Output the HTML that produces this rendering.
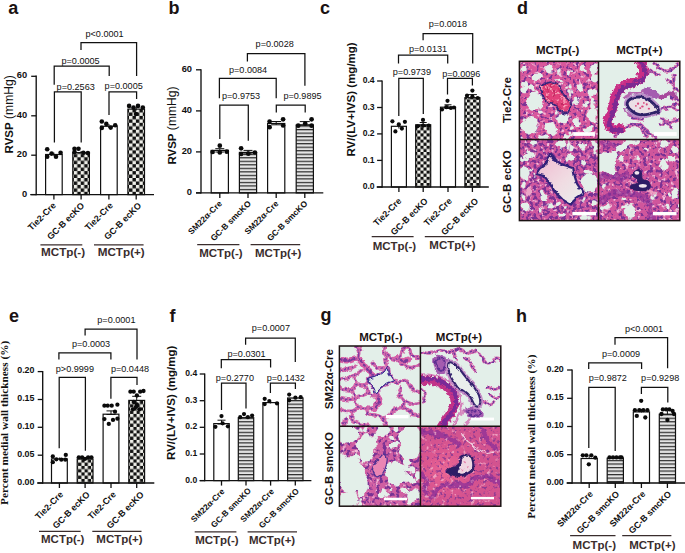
<!DOCTYPE html><html><head><meta charset="utf-8"><title>figure</title>
<style>html,body{margin:0;padding:0;background:#fff;}svg{display:block}</style></head><body>
<svg width="685" height="553" viewBox="0 0 685 553">
<rect width="685" height="553" fill="#fff"/>
<defs>
<pattern id="chk" width="6.9" height="6.9" patternUnits="userSpaceOnUse" patternTransform="translate(129.0,115.9)"><rect width="6.9" height="6.9" fill="#efefe9"/><rect x="3.45" y="0" width="3.45" height="3.45" fill="#111"/><rect x="0" y="3.45" width="3.45" height="3.45" fill="#111"/></pattern>
<pattern id="chkc" width="6.2" height="6.2" patternUnits="userSpaceOnUse" patternTransform="translate(466.9,102.4)"><rect width="6.2" height="6.2" fill="#efefe9"/><rect x="3.1" y="0" width="3.1" height="3.1" fill="#111"/><rect x="0" y="3.1" width="3.1" height="3.1" fill="#111"/></pattern>
<pattern id="chk2" width="6.5" height="6.5" patternUnits="userSpaceOnUse" patternTransform="translate(130.1,413.9)"><rect width="6.5" height="6.5" fill="#efefe9"/><rect x="3.25" y="0" width="3.25" height="3.25" fill="#111"/><rect x="0" y="3.25" width="3.25" height="3.25" fill="#111"/></pattern>
<pattern id="hst" width="8" height="3.52" patternUnits="userSpaceOnUse" patternTransform="translate(0,122.0)"><rect width="8" height="3.52" fill="#e4e4e4"/><rect x="0" y="0" width="8" height="1.2" fill="#2a2a2a"/></pattern>
</defs>
<rect x="45.60" y="154.50" width="16.60" height="40.10" fill="#fff" stroke="#111" stroke-width="1.2"/>
<line x1="53.90" y1="152.60" x2="53.90" y2="156.00" stroke="#111" stroke-width="1.0" stroke-linecap="butt"/>
<line x1="53.90" y1="152.60" x2="53.90" y2="152.60" stroke="#111" stroke-width="1.0" stroke-linecap="butt"/>
<line x1="53.90" y1="156.00" x2="53.90" y2="156.00" stroke="#111" stroke-width="1.0" stroke-linecap="butt"/>
<circle cx="47.20" cy="149.30" r="2.3" fill="#0a0a0a"/>
<circle cx="47.20" cy="156.80" r="2.3" fill="#0a0a0a"/>
<circle cx="51.60" cy="153.60" r="2.3" fill="#0a0a0a"/>
<circle cx="56.00" cy="156.80" r="2.3" fill="#0a0a0a"/>
<circle cx="60.60" cy="152.80" r="2.3" fill="#0a0a0a"/>
<line x1="53.90" y1="194.60" x2="53.90" y2="199.60" stroke="#111" stroke-width="1.3" stroke-linecap="butt"/>
<rect x="72.80" y="152.60" width="16.60" height="42.00" fill="url(#chk)" stroke="#111" stroke-width="1.2"/>
<line x1="81.10" y1="151.00" x2="81.10" y2="153.50" stroke="#111" stroke-width="1.0" stroke-linecap="butt"/>
<line x1="81.10" y1="151.00" x2="81.10" y2="151.00" stroke="#111" stroke-width="1.0" stroke-linecap="butt"/>
<line x1="81.10" y1="153.50" x2="81.10" y2="153.50" stroke="#111" stroke-width="1.0" stroke-linecap="butt"/>
<circle cx="74.50" cy="148.80" r="2.3" fill="#0a0a0a"/>
<circle cx="78.50" cy="148.80" r="2.3" fill="#0a0a0a"/>
<circle cx="74.50" cy="152.00" r="2.3" fill="#0a0a0a"/>
<circle cx="83.40" cy="152.80" r="2.3" fill="#0a0a0a"/>
<circle cx="87.90" cy="153.10" r="2.3" fill="#0a0a0a"/>
<line x1="81.10" y1="194.60" x2="81.10" y2="199.60" stroke="#111" stroke-width="1.3" stroke-linecap="butt"/>
<rect x="100.60" y="126.30" width="16.60" height="68.30" fill="#fff" stroke="#111" stroke-width="1.2"/>
<line x1="108.90" y1="124.00" x2="108.90" y2="128.00" stroke="#111" stroke-width="1.0" stroke-linecap="butt"/>
<line x1="108.90" y1="124.00" x2="108.90" y2="124.00" stroke="#111" stroke-width="1.0" stroke-linecap="butt"/>
<line x1="108.90" y1="128.00" x2="108.90" y2="128.00" stroke="#111" stroke-width="1.0" stroke-linecap="butt"/>
<circle cx="101.80" cy="121.50" r="2.3" fill="#0a0a0a"/>
<circle cx="101.80" cy="127.90" r="2.3" fill="#0a0a0a"/>
<circle cx="106.30" cy="123.90" r="2.3" fill="#0a0a0a"/>
<circle cx="110.70" cy="127.60" r="2.3" fill="#0a0a0a"/>
<circle cx="115.20" cy="125.20" r="2.3" fill="#0a0a0a"/>
<line x1="108.90" y1="194.60" x2="108.90" y2="199.60" stroke="#111" stroke-width="1.3" stroke-linecap="butt"/>
<rect x="127.90" y="109.10" width="16.60" height="85.50" fill="url(#chk)" stroke="#111" stroke-width="1.2"/>
<line x1="136.20" y1="107.00" x2="136.20" y2="110.50" stroke="#111" stroke-width="1.0" stroke-linecap="butt"/>
<line x1="136.20" y1="107.00" x2="136.20" y2="107.00" stroke="#111" stroke-width="1.0" stroke-linecap="butt"/>
<line x1="136.20" y1="110.50" x2="136.20" y2="110.50" stroke="#111" stroke-width="1.0" stroke-linecap="butt"/>
<circle cx="129.10" cy="105.90" r="2.3" fill="#0a0a0a"/>
<circle cx="133.50" cy="107.50" r="2.3" fill="#0a0a0a"/>
<circle cx="138.00" cy="105.90" r="2.3" fill="#0a0a0a"/>
<circle cx="142.80" cy="107.50" r="2.3" fill="#0a0a0a"/>
<circle cx="136.00" cy="114.00" r="2.3" fill="#0a0a0a"/>
<line x1="136.20" y1="194.60" x2="136.20" y2="199.60" stroke="#111" stroke-width="1.3" stroke-linecap="butt"/>
<line x1="36.20" y1="75.60" x2="36.20" y2="195.30" stroke="#111" stroke-width="1.35" stroke-linecap="butt"/>
<line x1="30.20" y1="194.60" x2="154.00" y2="194.60" stroke="#111" stroke-width="1.4" stroke-linecap="butt"/>
<line x1="31.20" y1="76.30" x2="36.20" y2="76.30" stroke="#111" stroke-width="1.3" stroke-linecap="butt"/>
<text x="27.20" y="78.25" font-family='"Liberation Sans", sans-serif' font-size="9.3" font-weight="bold" text-anchor="end" fill="#111">60</text>
<line x1="31.20" y1="115.80" x2="36.20" y2="115.80" stroke="#111" stroke-width="1.3" stroke-linecap="butt"/>
<text x="27.20" y="117.75" font-family='"Liberation Sans", sans-serif' font-size="9.3" font-weight="bold" text-anchor="end" fill="#111">40</text>
<line x1="31.20" y1="155.20" x2="36.20" y2="155.20" stroke="#111" stroke-width="1.3" stroke-linecap="butt"/>
<text x="27.20" y="157.15" font-family='"Liberation Sans", sans-serif' font-size="9.3" font-weight="bold" text-anchor="end" fill="#111">20</text>
<line x1="31.20" y1="194.60" x2="36.20" y2="194.60" stroke="#111" stroke-width="1.3" stroke-linecap="butt"/>
<text x="27.20" y="196.55" font-family='"Liberation Sans", sans-serif' font-size="9.3" font-weight="bold" text-anchor="end" fill="#111">0</text>
<path d="M81.00,50.00 V42.60 H136.60 V76.00" fill="none" stroke="#111" stroke-width="1.25" stroke-linejoin="miter"/>
<path d="M54.20,84.80 V66.20 H109.20 V76.00" fill="none" stroke="#111" stroke-width="1.25" stroke-linejoin="miter"/>
<path d="M54.40,142.40 V91.90 H81.20 V142.40" fill="none" stroke="#111" stroke-width="1.25" stroke-linejoin="miter"/>
<path d="M109.00,115.00 V91.90 H136.60 V99.00" fill="none" stroke="#111" stroke-width="1.25" stroke-linejoin="miter"/>
<text x="85.50" y="37.10" font-family='"Liberation Sans", sans-serif' font-size="9.1" font-weight="normal" text-anchor="start" fill="#111">p&lt;0.0001</text>
<text x="61.50" y="63.90" font-family='"Liberation Sans", sans-serif' font-size="9.1" font-weight="normal" text-anchor="start" fill="#111">p=0.0005</text>
<text x="56.60" y="89.50" font-family='"Liberation Sans", sans-serif' font-size="9.1" font-weight="normal" text-anchor="start" fill="#111">p=0.2563</text>
<text x="104.60" y="88.50" font-family='"Liberation Sans", sans-serif' font-size="9.1" font-weight="normal" text-anchor="start" fill="#111">p=0.0005</text>
<text x="0.00" y="0.00" font-family='"Liberation Sans", sans-serif' font-size="8.9" font-weight="bold" text-anchor="end" fill="#111" transform="translate(56.50,206.10) rotate(-45)">Tie2-Cre</text>
<text x="0.00" y="0.00" font-family='"Liberation Sans", sans-serif' font-size="8.9" font-weight="bold" text-anchor="end" fill="#111" transform="translate(84.80,206.10) rotate(-45)">GC-B ecKO</text>
<text x="0.00" y="0.00" font-family='"Liberation Sans", sans-serif' font-size="8.9" font-weight="bold" text-anchor="end" fill="#111" transform="translate(113.50,206.10) rotate(-45)">Tie2-Cre</text>
<text x="0.00" y="0.00" font-family='"Liberation Sans", sans-serif' font-size="8.9" font-weight="bold" text-anchor="end" fill="#111" transform="translate(142.00,206.10) rotate(-45)">GC-B ecKO</text>
<line x1="40.40" y1="244.80" x2="82.30" y2="244.80" stroke="#3a2d2d" stroke-width="1.2" stroke-linecap="butt"/>
<text x="41.00" y="255.80" font-family='"Liberation Sans", sans-serif' font-size="11.7" font-weight="bold" text-anchor="start" fill="#3a2d2d">MCTp(-)</text>
<line x1="94.00" y1="244.80" x2="143.60" y2="244.80" stroke="#3a2d2d" stroke-width="1.2" stroke-linecap="butt"/>
<text x="97.70" y="255.80" font-family='"Liberation Sans", sans-serif' font-size="11.7" font-weight="bold" text-anchor="start" fill="#3a2d2d">MCTp(+)</text>
<text transform="translate(12.6,153.4) rotate(-90)" font-family='"Liberation Sans", sans-serif' font-size="11.5" fill="#111"><tspan font-weight="bold">RVSP</tspan><tspan font-size="12.1"> (mmHg)</tspan></text>
<text x="8.20" y="14.20" font-family='"Liberation Sans", sans-serif' font-size="18" font-weight="bold" text-anchor="start" fill="#1a1212">a</text>
<rect x="211.20" y="150.40" width="17.20" height="42.50" fill="#fff" stroke="#111" stroke-width="1.2"/>
<line x1="219.80" y1="148.70" x2="219.80" y2="152.00" stroke="#111" stroke-width="1.0" stroke-linecap="butt"/>
<line x1="215.30" y1="148.70" x2="224.30" y2="148.70" stroke="#111" stroke-width="1.0" stroke-linecap="butt"/>
<line x1="215.30" y1="152.00" x2="224.30" y2="152.00" stroke="#111" stroke-width="1.0" stroke-linecap="butt"/>
<circle cx="219.80" cy="145.70" r="2.35" fill="#0a0a0a"/>
<circle cx="212.60" cy="152.00" r="2.35" fill="#0a0a0a"/>
<circle cx="219.80" cy="152.50" r="2.35" fill="#0a0a0a"/>
<circle cx="226.80" cy="151.70" r="2.35" fill="#0a0a0a"/>
<line x1="219.80" y1="192.90" x2="219.80" y2="197.90" stroke="#111" stroke-width="1.3" stroke-linecap="butt"/>
<rect x="239.40" y="152.40" width="17.20" height="40.50" fill="url(#hst)" stroke="#111" stroke-width="1.2"/>
<line x1="248.00" y1="150.40" x2="248.00" y2="154.00" stroke="#111" stroke-width="1.0" stroke-linecap="butt"/>
<line x1="243.50" y1="150.40" x2="252.50" y2="150.40" stroke="#111" stroke-width="1.0" stroke-linecap="butt"/>
<line x1="243.50" y1="154.00" x2="252.50" y2="154.00" stroke="#111" stroke-width="1.0" stroke-linecap="butt"/>
<circle cx="241.10" cy="148.30" r="2.35" fill="#0a0a0a"/>
<circle cx="241.10" cy="154.00" r="2.35" fill="#0a0a0a"/>
<circle cx="248.30" cy="153.70" r="2.35" fill="#0a0a0a"/>
<circle cx="254.90" cy="152.50" r="2.35" fill="#0a0a0a"/>
<line x1="248.00" y1="192.90" x2="248.00" y2="197.90" stroke="#111" stroke-width="1.3" stroke-linecap="butt"/>
<rect x="267.60" y="123.50" width="17.20" height="69.40" fill="#fff" stroke="#111" stroke-width="1.2"/>
<line x1="276.20" y1="121.50" x2="276.20" y2="124.80" stroke="#111" stroke-width="1.0" stroke-linecap="butt"/>
<line x1="271.20" y1="121.50" x2="281.20" y2="121.50" stroke="#111" stroke-width="1.0" stroke-linecap="butt"/>
<line x1="271.20" y1="124.80" x2="281.20" y2="124.80" stroke="#111" stroke-width="1.0" stroke-linecap="butt"/>
<circle cx="269.60" cy="121.50" r="2.35" fill="#0a0a0a"/>
<circle cx="269.60" cy="127.20" r="2.35" fill="#0a0a0a"/>
<circle cx="283.10" cy="119.30" r="2.35" fill="#0a0a0a"/>
<circle cx="283.10" cy="125.50" r="2.35" fill="#0a0a0a"/>
<line x1="276.20" y1="192.90" x2="276.20" y2="197.90" stroke="#111" stroke-width="1.3" stroke-linecap="butt"/>
<rect x="296.20" y="125.00" width="17.20" height="67.90" fill="url(#hst)" stroke="#111" stroke-width="1.2"/>
<line x1="304.80" y1="121.60" x2="304.80" y2="125.00" stroke="#111" stroke-width="1.0" stroke-linecap="butt"/>
<line x1="299.80" y1="121.60" x2="309.80" y2="121.60" stroke="#111" stroke-width="1.0" stroke-linecap="butt"/>
<line x1="299.80" y1="125.00" x2="309.80" y2="125.00" stroke="#111" stroke-width="1.0" stroke-linecap="butt"/>
<circle cx="298.20" cy="125.70" r="2.35" fill="#0a0a0a"/>
<circle cx="305.20" cy="123.50" r="2.35" fill="#0a0a0a"/>
<circle cx="311.60" cy="119.30" r="2.35" fill="#0a0a0a"/>
<circle cx="311.60" cy="125.70" r="2.35" fill="#0a0a0a"/>
<line x1="304.80" y1="192.90" x2="304.80" y2="197.90" stroke="#111" stroke-width="1.3" stroke-linecap="butt"/>
<line x1="201.00" y1="69.20" x2="201.00" y2="193.60" stroke="#111" stroke-width="1.35" stroke-linecap="butt"/>
<line x1="196.00" y1="192.90" x2="323.30" y2="192.90" stroke="#111" stroke-width="1.4" stroke-linecap="butt"/>
<line x1="196.00" y1="69.80" x2="201.00" y2="69.80" stroke="#111" stroke-width="1.3" stroke-linecap="butt"/>
<text x="192.00" y="71.75" font-family='"Liberation Sans", sans-serif' font-size="9.3" font-weight="bold" text-anchor="end" fill="#111">60</text>
<line x1="196.00" y1="110.90" x2="201.00" y2="110.90" stroke="#111" stroke-width="1.3" stroke-linecap="butt"/>
<text x="192.00" y="112.85" font-family='"Liberation Sans", sans-serif' font-size="9.3" font-weight="bold" text-anchor="end" fill="#111">40</text>
<line x1="196.00" y1="151.90" x2="201.00" y2="151.90" stroke="#111" stroke-width="1.3" stroke-linecap="butt"/>
<text x="192.00" y="153.85" font-family='"Liberation Sans", sans-serif' font-size="9.3" font-weight="bold" text-anchor="end" fill="#111">20</text>
<line x1="196.00" y1="192.90" x2="201.00" y2="192.90" stroke="#111" stroke-width="1.3" stroke-linecap="butt"/>
<text x="192.00" y="194.85" font-family='"Liberation Sans", sans-serif' font-size="9.3" font-weight="bold" text-anchor="end" fill="#111">0</text>
<path d="M247.40,61.50 V53.60 H304.90 V85.80" fill="none" stroke="#111" stroke-width="1.25" stroke-linejoin="miter"/>
<path d="M219.40,98.30 V78.40 H276.20 V98.30" fill="none" stroke="#111" stroke-width="1.25" stroke-linejoin="miter"/>
<path d="M219.80,139.00 V105.00 H248.30 V140.80" fill="none" stroke="#111" stroke-width="1.25" stroke-linejoin="miter"/>
<path d="M276.30,112.60 V105.00 H305.20 V112.60" fill="none" stroke="#111" stroke-width="1.25" stroke-linejoin="miter"/>
<text x="255.60" y="47.40" font-family='"Liberation Sans", sans-serif' font-size="9.1" font-weight="normal" text-anchor="start" fill="#111">p=0.0028</text>
<text x="229.00" y="72.70" font-family='"Liberation Sans", sans-serif' font-size="9.1" font-weight="normal" text-anchor="start" fill="#111">p=0.0084</text>
<text x="222.00" y="99.00" font-family='"Liberation Sans", sans-serif' font-size="9.1" font-weight="normal" text-anchor="start" fill="#111">p=0.9753</text>
<text x="283.40" y="99.00" font-family='"Liberation Sans", sans-serif' font-size="9.1" font-weight="normal" text-anchor="start" fill="#111">p=0.9895</text>
<text x="0.00" y="0.00" font-family='"Liberation Sans", sans-serif' font-size="8.4" font-weight="bold" text-anchor="end" fill="#111" transform="translate(222.50,204.10) rotate(-45)">SM22α-Cre</text>
<text x="0.00" y="0.00" font-family='"Liberation Sans", sans-serif' font-size="8.4" font-weight="bold" text-anchor="end" fill="#111" transform="translate(251.50,204.10) rotate(-45)">GC-B smcKO</text>
<text x="0.00" y="0.00" font-family='"Liberation Sans", sans-serif' font-size="8.4" font-weight="bold" text-anchor="end" fill="#111" transform="translate(279.00,204.10) rotate(-45)">SM22α-Cre</text>
<text x="0.00" y="0.00" font-family='"Liberation Sans", sans-serif' font-size="8.4" font-weight="bold" text-anchor="end" fill="#111" transform="translate(308.00,204.10) rotate(-45)">GC-B smcKO</text>
<line x1="197.20" y1="244.70" x2="239.40" y2="244.70" stroke="#3a2d2d" stroke-width="1.2" stroke-linecap="butt"/>
<text x="199.20" y="256.70" font-family='"Liberation Sans", sans-serif' font-size="11.5" font-weight="bold" text-anchor="start" fill="#3a2d2d">MCTp(-)</text>
<line x1="250.60" y1="244.70" x2="300.20" y2="244.70" stroke="#3a2d2d" stroke-width="1.2" stroke-linecap="butt"/>
<text x="255.00" y="256.70" font-family='"Liberation Sans", sans-serif' font-size="11.5" font-weight="bold" text-anchor="start" fill="#3a2d2d">MCTp(+)</text>
<text transform="translate(176,164.6) rotate(-90)" font-family='"Liberation Sans", sans-serif' font-size="11.5" fill="#111"><tspan font-weight="bold">RVSP</tspan><tspan font-size="12.1"> (mmHg)</tspan></text>
<text x="168.50" y="14.20" font-family='"Liberation Sans", sans-serif' font-size="18" font-weight="bold" text-anchor="start" fill="#1a1212">b</text>
<rect x="391.40" y="126.30" width="15.00" height="60.70" fill="#fff" stroke="#111" stroke-width="1.2"/>
<line x1="398.90" y1="123.50" x2="398.90" y2="128.50" stroke="#111" stroke-width="1.0" stroke-linecap="butt"/>
<line x1="398.90" y1="123.50" x2="398.90" y2="123.50" stroke="#111" stroke-width="1.0" stroke-linecap="butt"/>
<line x1="398.90" y1="128.50" x2="398.90" y2="128.50" stroke="#111" stroke-width="1.0" stroke-linecap="butt"/>
<circle cx="392.40" cy="121.30" r="2.1" fill="#0a0a0a"/>
<circle cx="398.80" cy="124.40" r="2.1" fill="#0a0a0a"/>
<circle cx="404.90" cy="121.80" r="2.1" fill="#0a0a0a"/>
<circle cx="395.40" cy="131.40" r="2.1" fill="#0a0a0a"/>
<circle cx="401.90" cy="128.60" r="2.1" fill="#0a0a0a"/>
<line x1="398.90" y1="187.00" x2="398.90" y2="192.00" stroke="#111" stroke-width="1.3" stroke-linecap="butt"/>
<rect x="415.70" y="124.80" width="15.00" height="62.20" fill="url(#chkc)" stroke="#111" stroke-width="1.2"/>
<line x1="423.20" y1="122.50" x2="423.20" y2="126.00" stroke="#111" stroke-width="1.0" stroke-linecap="butt"/>
<line x1="419.70" y1="122.50" x2="426.70" y2="122.50" stroke="#111" stroke-width="1.0" stroke-linecap="butt"/>
<line x1="419.70" y1="126.00" x2="426.70" y2="126.00" stroke="#111" stroke-width="1.0" stroke-linecap="butt"/>
<circle cx="423.00" cy="119.90" r="2.1" fill="#0a0a0a"/>
<circle cx="417.50" cy="126.30" r="2.1" fill="#0a0a0a"/>
<circle cx="423.00" cy="125.60" r="2.1" fill="#0a0a0a"/>
<circle cx="428.70" cy="125.60" r="2.1" fill="#0a0a0a"/>
<line x1="423.20" y1="187.00" x2="423.20" y2="192.00" stroke="#111" stroke-width="1.3" stroke-linecap="butt"/>
<rect x="440.50" y="107.20" width="15.00" height="79.80" fill="#fff" stroke="#111" stroke-width="1.2"/>
<line x1="448.00" y1="104.80" x2="448.00" y2="108.50" stroke="#111" stroke-width="1.0" stroke-linecap="butt"/>
<line x1="444.50" y1="104.80" x2="451.50" y2="104.80" stroke="#111" stroke-width="1.0" stroke-linecap="butt"/>
<line x1="444.50" y1="108.50" x2="451.50" y2="108.50" stroke="#111" stroke-width="1.0" stroke-linecap="butt"/>
<circle cx="447.50" cy="100.80" r="2.1" fill="#0a0a0a"/>
<circle cx="442.00" cy="109.50" r="2.1" fill="#0a0a0a"/>
<circle cx="446.30" cy="107.20" r="2.1" fill="#0a0a0a"/>
<circle cx="450.90" cy="108.00" r="2.1" fill="#0a0a0a"/>
<circle cx="454.00" cy="107.50" r="2.1" fill="#0a0a0a"/>
<line x1="448.00" y1="187.00" x2="448.00" y2="192.00" stroke="#111" stroke-width="1.3" stroke-linecap="butt"/>
<rect x="464.90" y="97.70" width="15.00" height="89.30" fill="url(#chkc)" stroke="#111" stroke-width="1.2"/>
<line x1="472.40" y1="94.60" x2="472.40" y2="98.00" stroke="#111" stroke-width="1.0" stroke-linecap="butt"/>
<line x1="467.90" y1="94.60" x2="476.90" y2="94.60" stroke="#111" stroke-width="1.0" stroke-linecap="butt"/>
<line x1="467.90" y1="98.00" x2="476.90" y2="98.00" stroke="#111" stroke-width="1.0" stroke-linecap="butt"/>
<circle cx="472.40" cy="90.60" r="2.1" fill="#0a0a0a"/>
<circle cx="467.00" cy="95.70" r="2.1" fill="#0a0a0a"/>
<circle cx="472.40" cy="96.50" r="2.1" fill="#0a0a0a"/>
<circle cx="477.70" cy="98.00" r="2.1" fill="#0a0a0a"/>
<line x1="472.40" y1="187.00" x2="472.40" y2="192.00" stroke="#111" stroke-width="1.3" stroke-linecap="butt"/>
<line x1="382.10" y1="80.40" x2="382.10" y2="187.70" stroke="#111" stroke-width="1.35" stroke-linecap="butt"/>
<line x1="376.70" y1="187.00" x2="488.80" y2="187.00" stroke="#111" stroke-width="1.4" stroke-linecap="butt"/>
<line x1="377.10" y1="81.00" x2="382.10" y2="81.00" stroke="#111" stroke-width="1.3" stroke-linecap="butt"/>
<text x="374.60" y="83.10" font-family='"Liberation Sans", sans-serif' font-size="8.6" font-weight="bold" text-anchor="end" fill="#111">0.4</text>
<line x1="377.10" y1="107.50" x2="382.10" y2="107.50" stroke="#111" stroke-width="1.3" stroke-linecap="butt"/>
<text x="374.60" y="109.60" font-family='"Liberation Sans", sans-serif' font-size="8.6" font-weight="bold" text-anchor="end" fill="#111">0.3</text>
<line x1="377.10" y1="133.90" x2="382.10" y2="133.90" stroke="#111" stroke-width="1.3" stroke-linecap="butt"/>
<text x="374.60" y="136.00" font-family='"Liberation Sans", sans-serif' font-size="8.6" font-weight="bold" text-anchor="end" fill="#111">0.2</text>
<line x1="377.10" y1="160.40" x2="382.10" y2="160.40" stroke="#111" stroke-width="1.3" stroke-linecap="butt"/>
<text x="374.60" y="162.50" font-family='"Liberation Sans", sans-serif' font-size="8.6" font-weight="bold" text-anchor="end" fill="#111">0.1</text>
<line x1="377.10" y1="187.00" x2="382.10" y2="187.00" stroke="#111" stroke-width="1.3" stroke-linecap="butt"/>
<text x="374.60" y="189.10" font-family='"Liberation Sans", sans-serif' font-size="8.6" font-weight="bold" text-anchor="end" fill="#111">0.0</text>
<path d="M423.10,40.30 V33.60 H472.70 V63.40" fill="none" stroke="#111" stroke-width="1.25" stroke-linejoin="miter"/>
<path d="M398.50,63.40 V55.20 H447.70 V63.40" fill="none" stroke="#111" stroke-width="1.25" stroke-linejoin="miter"/>
<path d="M398.80,116.10 V78.40 H423.30 V114.10" fill="none" stroke="#111" stroke-width="1.25" stroke-linejoin="miter"/>
<path d="M447.50,94.60 V78.40 H472.40 V85.40" fill="none" stroke="#111" stroke-width="1.25" stroke-linejoin="miter"/>
<text x="428.80" y="26.90" font-family='"Liberation Sans", sans-serif' font-size="9.1" font-weight="normal" text-anchor="start" fill="#111">p=0.0018</text>
<text x="408.90" y="51.50" font-family='"Liberation Sans", sans-serif' font-size="9.1" font-weight="normal" text-anchor="start" fill="#111">p=0.0131</text>
<text x="392.80" y="74.50" font-family='"Liberation Sans", sans-serif' font-size="9.1" font-weight="normal" text-anchor="start" fill="#111">p=0.9739</text>
<text x="442.20" y="76.50" font-family='"Liberation Sans", sans-serif' font-size="9.1" font-weight="normal" text-anchor="start" fill="#111">p=0.0096</text>
<text x="0.00" y="0.00" font-family='"Liberation Sans", sans-serif' font-size="8.9" font-weight="bold" text-anchor="end" fill="#111" transform="translate(402.00,201.60) rotate(-45)">Tie2-Cre</text>
<text x="0.00" y="0.00" font-family='"Liberation Sans", sans-serif' font-size="8.9" font-weight="bold" text-anchor="end" fill="#111" transform="translate(428.50,201.60) rotate(-45)">GC-B ecKO</text>
<text x="0.00" y="0.00" font-family='"Liberation Sans", sans-serif' font-size="8.9" font-weight="bold" text-anchor="end" fill="#111" transform="translate(452.50,201.60) rotate(-45)">Tie2-Cre</text>
<text x="0.00" y="0.00" font-family='"Liberation Sans", sans-serif' font-size="8.9" font-weight="bold" text-anchor="end" fill="#111" transform="translate(479.00,201.60) rotate(-45)">GC-B ecKO</text>
<line x1="371.70" y1="236.70" x2="413.60" y2="236.70" stroke="#3a2d2d" stroke-width="1.2" stroke-linecap="butt"/>
<text x="372.70" y="249.60" font-family='"Liberation Sans", sans-serif' font-size="11.5" font-weight="bold" text-anchor="start" fill="#3a2d2d">MCTp(-)</text>
<line x1="424.80" y1="236.70" x2="474.00" y2="236.70" stroke="#3a2d2d" stroke-width="1.2" stroke-linecap="butt"/>
<text x="429.30" y="248.60" font-family='"Liberation Sans", sans-serif' font-size="11.5" font-weight="bold" text-anchor="start" fill="#3a2d2d">MCTp(+)</text>
<text transform="translate(355.3,156.6) rotate(-90)" font-family='"Liberation Sans", sans-serif' font-size="11.5" font-weight="bold" fill="#111">RV/(LV+IVS) (mg/mg)</text>
<text x="320.00" y="14.20" font-family='"Liberation Sans", sans-serif' font-size="18" font-weight="bold" text-anchor="start" fill="#1a1212">c</text>
<rect x="51.50" y="458.90" width="15.80" height="24.10" fill="#fff" stroke="#111" stroke-width="1.2"/>
<line x1="59.40" y1="457.50" x2="59.40" y2="460.00" stroke="#111" stroke-width="1.0" stroke-linecap="butt"/>
<line x1="59.40" y1="457.50" x2="59.40" y2="457.50" stroke="#111" stroke-width="1.0" stroke-linecap="butt"/>
<line x1="59.40" y1="460.00" x2="59.40" y2="460.00" stroke="#111" stroke-width="1.0" stroke-linecap="butt"/>
<circle cx="52.80" cy="456.50" r="2.15" fill="#0a0a0a"/>
<circle cx="65.80" cy="454.90" r="2.15" fill="#0a0a0a"/>
<circle cx="52.80" cy="462.20" r="2.15" fill="#0a0a0a"/>
<circle cx="56.40" cy="459.30" r="2.15" fill="#0a0a0a"/>
<circle cx="61.30" cy="459.70" r="2.15" fill="#0a0a0a"/>
<circle cx="65.30" cy="459.70" r="2.15" fill="#0a0a0a"/>
<line x1="59.40" y1="483.00" x2="59.40" y2="488.00" stroke="#111" stroke-width="1.3" stroke-linecap="butt"/>
<rect x="77.20" y="458.90" width="15.80" height="24.10" fill="url(#chk2)" stroke="#111" stroke-width="1.2"/>
<line x1="85.10" y1="458.00" x2="85.10" y2="459.50" stroke="#111" stroke-width="1.0" stroke-linecap="butt"/>
<line x1="85.10" y1="458.00" x2="85.10" y2="458.00" stroke="#111" stroke-width="1.0" stroke-linecap="butt"/>
<line x1="85.10" y1="459.50" x2="85.10" y2="459.50" stroke="#111" stroke-width="1.0" stroke-linecap="butt"/>
<circle cx="78.80" cy="457.30" r="2.15" fill="#0a0a0a"/>
<circle cx="82.10" cy="457.30" r="2.15" fill="#0a0a0a"/>
<circle cx="88.10" cy="457.30" r="2.15" fill="#0a0a0a"/>
<circle cx="91.40" cy="457.30" r="2.15" fill="#0a0a0a"/>
<circle cx="84.90" cy="458.90" r="2.15" fill="#0a0a0a"/>
<line x1="85.10" y1="483.00" x2="85.10" y2="488.00" stroke="#111" stroke-width="1.3" stroke-linecap="butt"/>
<rect x="103.10" y="414.20" width="15.80" height="68.80" fill="#fff" stroke="#111" stroke-width="1.2"/>
<line x1="111.00" y1="410.90" x2="111.00" y2="414.50" stroke="#111" stroke-width="1.0" stroke-linecap="butt"/>
<line x1="106.50" y1="410.90" x2="115.50" y2="410.90" stroke="#111" stroke-width="1.0" stroke-linecap="butt"/>
<line x1="106.50" y1="414.50" x2="115.50" y2="414.50" stroke="#111" stroke-width="1.0" stroke-linecap="butt"/>
<circle cx="104.40" cy="405.70" r="2.15" fill="#0a0a0a"/>
<circle cx="107.70" cy="405.70" r="2.15" fill="#0a0a0a"/>
<circle cx="111.70" cy="405.70" r="2.15" fill="#0a0a0a"/>
<circle cx="117.40" cy="404.70" r="2.15" fill="#0a0a0a"/>
<circle cx="104.40" cy="419.10" r="2.15" fill="#0a0a0a"/>
<circle cx="108.80" cy="423.90" r="2.15" fill="#0a0a0a"/>
<circle cx="113.00" cy="419.90" r="2.15" fill="#0a0a0a"/>
<circle cx="117.40" cy="418.70" r="2.15" fill="#0a0a0a"/>
<circle cx="115.00" cy="411.70" r="2.15" fill="#0a0a0a"/>
<line x1="111.00" y1="483.00" x2="111.00" y2="488.00" stroke="#111" stroke-width="1.3" stroke-linecap="butt"/>
<rect x="128.80" y="400.40" width="15.80" height="82.60" fill="url(#chk2)" stroke="#111" stroke-width="1.2"/>
<line x1="136.70" y1="396.30" x2="136.70" y2="400.50" stroke="#111" stroke-width="1.0" stroke-linecap="butt"/>
<line x1="132.20" y1="396.30" x2="141.20" y2="396.30" stroke="#111" stroke-width="1.0" stroke-linecap="butt"/>
<line x1="132.20" y1="400.50" x2="141.20" y2="400.50" stroke="#111" stroke-width="1.0" stroke-linecap="butt"/>
<circle cx="130.40" cy="391.70" r="2.15" fill="#0a0a0a"/>
<circle cx="133.70" cy="391.70" r="2.15" fill="#0a0a0a"/>
<circle cx="140.20" cy="391.70" r="2.15" fill="#0a0a0a"/>
<circle cx="143.50" cy="391.00" r="2.15" fill="#0a0a0a"/>
<circle cx="136.90" cy="395.50" r="2.15" fill="#0a0a0a"/>
<circle cx="133.70" cy="402.00" r="2.15" fill="#0a0a0a"/>
<circle cx="136.90" cy="404.40" r="2.15" fill="#0a0a0a"/>
<circle cx="132.90" cy="409.30" r="2.15" fill="#0a0a0a"/>
<circle cx="139.40" cy="409.30" r="2.15" fill="#0a0a0a"/>
<circle cx="136.00" cy="406.90" r="2.15" fill="#0a0a0a"/>
<line x1="136.70" y1="483.00" x2="136.70" y2="488.00" stroke="#111" stroke-width="1.3" stroke-linecap="butt"/>
<line x1="42.70" y1="371.00" x2="42.70" y2="483.70" stroke="#111" stroke-width="1.35" stroke-linecap="butt"/>
<line x1="37.20" y1="483.00" x2="154.30" y2="483.00" stroke="#111" stroke-width="1.4" stroke-linecap="butt"/>
<line x1="37.70" y1="371.60" x2="42.70" y2="371.60" stroke="#111" stroke-width="1.3" stroke-linecap="butt"/>
<text x="34.50" y="373.40" font-family='"Liberation Sans", sans-serif' font-size="8.9" font-weight="bold" text-anchor="end" fill="#111">0.20</text>
<line x1="37.70" y1="399.50" x2="42.70" y2="399.50" stroke="#111" stroke-width="1.3" stroke-linecap="butt"/>
<text x="34.50" y="401.30" font-family='"Liberation Sans", sans-serif' font-size="8.9" font-weight="bold" text-anchor="end" fill="#111">0.15</text>
<line x1="37.70" y1="427.30" x2="42.70" y2="427.30" stroke="#111" stroke-width="1.3" stroke-linecap="butt"/>
<text x="34.50" y="429.10" font-family='"Liberation Sans", sans-serif' font-size="8.9" font-weight="bold" text-anchor="end" fill="#111">0.10</text>
<line x1="37.70" y1="455.20" x2="42.70" y2="455.20" stroke="#111" stroke-width="1.3" stroke-linecap="butt"/>
<text x="34.50" y="457.00" font-family='"Liberation Sans", sans-serif' font-size="8.9" font-weight="bold" text-anchor="end" fill="#111">0.05</text>
<line x1="37.70" y1="483.00" x2="42.70" y2="483.00" stroke="#111" stroke-width="1.3" stroke-linecap="butt"/>
<text x="34.50" y="484.80" font-family='"Liberation Sans", sans-serif' font-size="8.9" font-weight="bold" text-anchor="end" fill="#111">0.00</text>
<path d="M85.10,335.50 V329.00 H137.00 V359.60" fill="none" stroke="#111" stroke-width="1.25" stroke-linejoin="miter"/>
<path d="M58.90,359.60 V352.90 H110.90 V359.60" fill="none" stroke="#111" stroke-width="1.25" stroke-linejoin="miter"/>
<path d="M59.20,448.30 V377.40 H85.40 V450.80" fill="none" stroke="#111" stroke-width="1.25" stroke-linejoin="miter"/>
<path d="M110.90,398.70 V377.40 H137.00 V384.90" fill="none" stroke="#111" stroke-width="1.25" stroke-linejoin="miter"/>
<text x="97.30" y="322.80" font-family='"Liberation Sans", sans-serif' font-size="9.1" font-weight="normal" text-anchor="start" fill="#111">p=0.0001</text>
<text x="72.00" y="347.20" font-family='"Liberation Sans", sans-serif' font-size="9.1" font-weight="normal" text-anchor="start" fill="#111">p=0.0003</text>
<text x="55.80" y="371.50" font-family='"Liberation Sans", sans-serif' font-size="9.1" font-weight="normal" text-anchor="start" fill="#111">p&gt;0.9999</text>
<text x="110.90" y="371.50" font-family='"Liberation Sans", sans-serif' font-size="9.1" font-weight="normal" text-anchor="start" fill="#111">p=0.0448</text>
<text x="0.00" y="0.00" font-family='"Liberation Sans", sans-serif' font-size="8.9" font-weight="bold" text-anchor="end" fill="#111" transform="translate(63.80,495.10) rotate(-45)">Tie2-Cre</text>
<text x="0.00" y="0.00" font-family='"Liberation Sans", sans-serif' font-size="8.9" font-weight="bold" text-anchor="end" fill="#111" transform="translate(90.50,495.10) rotate(-45)">GC-B ecKO</text>
<text x="0.00" y="0.00" font-family='"Liberation Sans", sans-serif' font-size="8.9" font-weight="bold" text-anchor="end" fill="#111" transform="translate(116.50,495.10) rotate(-45)">Tie2-Cre</text>
<text x="0.00" y="0.00" font-family='"Liberation Sans", sans-serif' font-size="8.9" font-weight="bold" text-anchor="end" fill="#111" transform="translate(144.50,495.10) rotate(-45)">GC-B ecKO</text>
<line x1="39.00" y1="531.40" x2="80.70" y2="531.40" stroke="#3a2d2d" stroke-width="1.2" stroke-linecap="butt"/>
<text x="41.00" y="542.60" font-family='"Liberation Sans", sans-serif' font-size="11.5" font-weight="bold" text-anchor="start" fill="#3a2d2d">MCTp(-)</text>
<line x1="92.30" y1="531.40" x2="141.50" y2="531.40" stroke="#3a2d2d" stroke-width="1.2" stroke-linecap="butt"/>
<text x="96.30" y="542.60" font-family='"Liberation Sans", sans-serif' font-size="11.5" font-weight="bold" text-anchor="start" fill="#3a2d2d">MCTp(+)</text>
<text transform="translate(7.7,505) rotate(-90)" font-family='"Liberation Serif", serif' font-size="11.3" font-weight="bold" fill="#111">Percent medial wall thickness (%)</text>
<text x="9.00" y="321.60" font-family='"Liberation Sans", sans-serif' font-size="18" font-weight="bold" text-anchor="start" fill="#1a1212">e</text>
<rect x="213.80" y="423.60" width="15.40" height="57.00" fill="#fff" stroke="#111" stroke-width="1.2"/>
<line x1="221.50" y1="420.20" x2="221.50" y2="424.00" stroke="#111" stroke-width="1.0" stroke-linecap="butt"/>
<line x1="217.50" y1="420.20" x2="225.50" y2="420.20" stroke="#111" stroke-width="1.0" stroke-linecap="butt"/>
<line x1="217.50" y1="424.00" x2="225.50" y2="424.00" stroke="#111" stroke-width="1.0" stroke-linecap="butt"/>
<circle cx="221.50" cy="416.10" r="2.1" fill="#0a0a0a"/>
<circle cx="215.40" cy="426.80" r="2.1" fill="#0a0a0a"/>
<circle cx="227.90" cy="426.30" r="2.1" fill="#0a0a0a"/>
<circle cx="222.60" cy="423.30" r="2.1" fill="#0a0a0a"/>
<line x1="221.50" y1="480.60" x2="221.50" y2="485.60" stroke="#111" stroke-width="1.3" stroke-linecap="butt"/>
<rect x="238.30" y="417.70" width="15.40" height="62.90" fill="url(#hst)" stroke="#111" stroke-width="1.2"/>
<line x1="246.00" y1="416.50" x2="246.00" y2="418.20" stroke="#111" stroke-width="1.0" stroke-linecap="butt"/>
<line x1="246.00" y1="416.50" x2="246.00" y2="416.50" stroke="#111" stroke-width="1.0" stroke-linecap="butt"/>
<line x1="246.00" y1="418.20" x2="246.00" y2="418.20" stroke="#111" stroke-width="1.0" stroke-linecap="butt"/>
<circle cx="244.00" cy="414.10" r="2.1" fill="#0a0a0a"/>
<circle cx="240.20" cy="417.20" r="2.1" fill="#0a0a0a"/>
<circle cx="247.90" cy="417.20" r="2.1" fill="#0a0a0a"/>
<circle cx="252.10" cy="415.60" r="2.1" fill="#0a0a0a"/>
<line x1="246.00" y1="480.60" x2="246.00" y2="485.60" stroke="#111" stroke-width="1.3" stroke-linecap="butt"/>
<rect x="262.90" y="402.60" width="15.40" height="78.00" fill="#fff" stroke="#111" stroke-width="1.2"/>
<line x1="270.60" y1="401.00" x2="270.60" y2="403.50" stroke="#111" stroke-width="1.0" stroke-linecap="butt"/>
<line x1="270.60" y1="401.00" x2="270.60" y2="401.00" stroke="#111" stroke-width="1.0" stroke-linecap="butt"/>
<line x1="270.60" y1="403.50" x2="270.60" y2="403.50" stroke="#111" stroke-width="1.0" stroke-linecap="butt"/>
<circle cx="264.70" cy="398.80" r="2.1" fill="#0a0a0a"/>
<circle cx="264.70" cy="404.10" r="2.1" fill="#0a0a0a"/>
<circle cx="269.30" cy="401.10" r="2.1" fill="#0a0a0a"/>
<circle cx="277.00" cy="403.40" r="2.1" fill="#0a0a0a"/>
<line x1="270.60" y1="480.60" x2="270.60" y2="485.60" stroke="#111" stroke-width="1.3" stroke-linecap="butt"/>
<rect x="287.60" y="398.00" width="15.40" height="82.60" fill="url(#hst)" stroke="#111" stroke-width="1.2"/>
<line x1="295.30" y1="396.50" x2="295.30" y2="398.50" stroke="#111" stroke-width="1.0" stroke-linecap="butt"/>
<line x1="295.30" y1="396.50" x2="295.30" y2="396.50" stroke="#111" stroke-width="1.0" stroke-linecap="butt"/>
<line x1="295.30" y1="398.50" x2="295.30" y2="398.50" stroke="#111" stroke-width="1.0" stroke-linecap="butt"/>
<circle cx="289.20" cy="394.60" r="2.1" fill="#0a0a0a"/>
<circle cx="289.20" cy="400.30" r="2.1" fill="#0a0a0a"/>
<circle cx="295.40" cy="397.70" r="2.1" fill="#0a0a0a"/>
<circle cx="300.70" cy="397.20" r="2.1" fill="#0a0a0a"/>
<line x1="295.30" y1="480.60" x2="295.30" y2="485.60" stroke="#111" stroke-width="1.3" stroke-linecap="butt"/>
<line x1="204.70" y1="373.40" x2="204.70" y2="481.30" stroke="#111" stroke-width="1.35" stroke-linecap="butt"/>
<line x1="199.70" y1="480.60" x2="311.40" y2="480.60" stroke="#111" stroke-width="1.4" stroke-linecap="butt"/>
<line x1="199.70" y1="374.00" x2="204.70" y2="374.00" stroke="#111" stroke-width="1.3" stroke-linecap="butt"/>
<text x="197.20" y="376.10" font-family='"Liberation Sans", sans-serif' font-size="8.6" font-weight="bold" text-anchor="end" fill="#111">0.4</text>
<line x1="199.70" y1="400.70" x2="204.70" y2="400.70" stroke="#111" stroke-width="1.3" stroke-linecap="butt"/>
<text x="197.20" y="402.80" font-family='"Liberation Sans", sans-serif' font-size="8.6" font-weight="bold" text-anchor="end" fill="#111">0.3</text>
<line x1="199.70" y1="427.30" x2="204.70" y2="427.30" stroke="#111" stroke-width="1.3" stroke-linecap="butt"/>
<text x="197.20" y="429.40" font-family='"Liberation Sans", sans-serif' font-size="8.6" font-weight="bold" text-anchor="end" fill="#111">0.2</text>
<line x1="199.70" y1="454.00" x2="204.70" y2="454.00" stroke="#111" stroke-width="1.3" stroke-linecap="butt"/>
<text x="197.20" y="456.10" font-family='"Liberation Sans", sans-serif' font-size="8.6" font-weight="bold" text-anchor="end" fill="#111">0.1</text>
<line x1="199.70" y1="480.60" x2="204.70" y2="480.60" stroke="#111" stroke-width="1.3" stroke-linecap="butt"/>
<text x="197.20" y="482.70" font-family='"Liberation Sans", sans-serif' font-size="8.6" font-weight="bold" text-anchor="end" fill="#111">0.0</text>
<path d="M245.60,344.70 V338.00 H295.30 V362.00" fill="none" stroke="#111" stroke-width="1.25" stroke-linejoin="miter"/>
<path d="M221.30,368.30 V359.60 H270.60 V367.50" fill="none" stroke="#111" stroke-width="1.25" stroke-linejoin="miter"/>
<path d="M221.50,410.00 V383.00 H246.00 V408.40" fill="none" stroke="#111" stroke-width="1.25" stroke-linejoin="miter"/>
<path d="M270.40,393.10 V383.00 H295.40 V389.10" fill="none" stroke="#111" stroke-width="1.25" stroke-linejoin="miter"/>
<text x="251.80" y="331.00" font-family='"Liberation Sans", sans-serif' font-size="9.1" font-weight="normal" text-anchor="start" fill="#111">p=0.0007</text>
<text x="227.50" y="356.60" font-family='"Liberation Sans", sans-serif' font-size="9.1" font-weight="normal" text-anchor="start" fill="#111">p=0.0301</text>
<text x="215.80" y="380.70" font-family='"Liberation Sans", sans-serif' font-size="9.1" font-weight="normal" text-anchor="start" fill="#111">p=0.2770</text>
<text x="266.70" y="380.70" font-family='"Liberation Sans", sans-serif' font-size="9.1" font-weight="normal" text-anchor="start" fill="#111">p=0.1432</text>
<text x="0.00" y="0.00" font-family='"Liberation Sans", sans-serif' font-size="8.3" font-weight="bold" text-anchor="end" fill="#111" transform="translate(225.00,492.10) rotate(-45)">SM22α-Cre</text>
<text x="0.00" y="0.00" font-family='"Liberation Sans", sans-serif' font-size="8.3" font-weight="bold" text-anchor="end" fill="#111" transform="translate(251.50,491.10) rotate(-45)">GC-B smcKO</text>
<text x="0.00" y="0.00" font-family='"Liberation Sans", sans-serif' font-size="8.3" font-weight="bold" text-anchor="end" fill="#111" transform="translate(274.50,492.10) rotate(-45)">SM22α-Cre</text>
<text x="0.00" y="0.00" font-family='"Liberation Sans", sans-serif' font-size="8.3" font-weight="bold" text-anchor="end" fill="#111" transform="translate(299.50,491.60) rotate(-45)">GC-B smcKO</text>
<line x1="194.70" y1="531.90" x2="236.40" y2="531.90" stroke="#3a2d2d" stroke-width="1.2" stroke-linecap="butt"/>
<text x="195.20" y="543.80" font-family='"Liberation Sans", sans-serif' font-size="11.5" font-weight="bold" text-anchor="start" fill="#3a2d2d">MCTp(-)</text>
<line x1="247.60" y1="531.90" x2="297.00" y2="531.90" stroke="#3a2d2d" stroke-width="1.2" stroke-linecap="butt"/>
<text x="248.90" y="543.80" font-family='"Liberation Sans", sans-serif' font-size="11.5" font-weight="bold" text-anchor="start" fill="#3a2d2d">MCTp(+)</text>
<text transform="translate(175.4,459.9) rotate(-90)" font-family='"Liberation Sans", sans-serif' font-size="11.5" font-weight="bold" fill="#111">RV/(LV+IVS) (mg/mg)</text>
<text x="169.50" y="321.60" font-family='"Liberation Sans", sans-serif' font-size="18" font-weight="bold" text-anchor="start" fill="#1a1212">f</text>
<rect x="581.10" y="458.50" width="16.20" height="24.50" fill="#fff" stroke="#111" stroke-width="1.2"/>
<line x1="589.20" y1="456.00" x2="589.20" y2="459.00" stroke="#111" stroke-width="1.0" stroke-linecap="butt"/>
<line x1="589.20" y1="456.00" x2="589.20" y2="456.00" stroke="#111" stroke-width="1.0" stroke-linecap="butt"/>
<line x1="589.20" y1="459.00" x2="589.20" y2="459.00" stroke="#111" stroke-width="1.0" stroke-linecap="butt"/>
<circle cx="582.80" cy="455.30" r="2.15" fill="#0a0a0a"/>
<circle cx="586.40" cy="455.30" r="2.15" fill="#0a0a0a"/>
<circle cx="591.30" cy="455.30" r="2.15" fill="#0a0a0a"/>
<circle cx="595.30" cy="457.70" r="2.15" fill="#0a0a0a"/>
<circle cx="588.80" cy="464.30" r="2.15" fill="#0a0a0a"/>
<line x1="589.20" y1="483.00" x2="589.20" y2="488.00" stroke="#111" stroke-width="1.3" stroke-linecap="butt"/>
<rect x="607.20" y="458.20" width="16.20" height="24.80" fill="url(#hst)" stroke="#111" stroke-width="1.2"/>
<line x1="615.30" y1="457.00" x2="615.30" y2="459.00" stroke="#111" stroke-width="1.0" stroke-linecap="butt"/>
<line x1="615.30" y1="457.00" x2="615.30" y2="457.00" stroke="#111" stroke-width="1.0" stroke-linecap="butt"/>
<line x1="615.30" y1="459.00" x2="615.30" y2="459.00" stroke="#111" stroke-width="1.0" stroke-linecap="butt"/>
<circle cx="609.50" cy="457.40" r="2.15" fill="#0a0a0a"/>
<circle cx="613.00" cy="457.40" r="2.15" fill="#0a0a0a"/>
<circle cx="616.50" cy="457.40" r="2.15" fill="#0a0a0a"/>
<circle cx="620.00" cy="457.40" r="2.15" fill="#0a0a0a"/>
<circle cx="621.50" cy="457.40" r="2.15" fill="#0a0a0a"/>
<line x1="615.30" y1="483.00" x2="615.30" y2="488.00" stroke="#111" stroke-width="1.3" stroke-linecap="butt"/>
<rect x="633.30" y="411.90" width="16.20" height="71.10" fill="#fff" stroke="#111" stroke-width="1.2"/>
<line x1="641.40" y1="409.00" x2="641.40" y2="412.50" stroke="#111" stroke-width="1.0" stroke-linecap="butt"/>
<line x1="641.40" y1="409.00" x2="641.40" y2="409.00" stroke="#111" stroke-width="1.0" stroke-linecap="butt"/>
<line x1="641.40" y1="412.50" x2="641.40" y2="412.50" stroke="#111" stroke-width="1.0" stroke-linecap="butt"/>
<circle cx="641.20" cy="400.80" r="2.15" fill="#0a0a0a"/>
<circle cx="634.90" cy="410.20" r="2.15" fill="#0a0a0a"/>
<circle cx="639.30" cy="410.20" r="2.15" fill="#0a0a0a"/>
<circle cx="643.30" cy="410.20" r="2.15" fill="#0a0a0a"/>
<circle cx="647.40" cy="410.20" r="2.15" fill="#0a0a0a"/>
<circle cx="636.80" cy="415.90" r="2.15" fill="#0a0a0a"/>
<circle cx="645.30" cy="417.50" r="2.15" fill="#0a0a0a"/>
<line x1="641.40" y1="483.00" x2="641.40" y2="488.00" stroke="#111" stroke-width="1.3" stroke-linecap="butt"/>
<rect x="659.30" y="414.20" width="16.20" height="68.80" fill="url(#hst)" stroke="#111" stroke-width="1.2"/>
<line x1="667.40" y1="411.00" x2="667.40" y2="414.50" stroke="#111" stroke-width="1.0" stroke-linecap="butt"/>
<line x1="667.40" y1="411.00" x2="667.40" y2="411.00" stroke="#111" stroke-width="1.0" stroke-linecap="butt"/>
<line x1="667.40" y1="414.50" x2="667.40" y2="414.50" stroke="#111" stroke-width="1.0" stroke-linecap="butt"/>
<circle cx="662.90" cy="409.40" r="2.15" fill="#0a0a0a"/>
<circle cx="666.10" cy="409.40" r="2.15" fill="#0a0a0a"/>
<circle cx="669.40" cy="409.40" r="2.15" fill="#0a0a0a"/>
<circle cx="672.60" cy="411.00" r="2.15" fill="#0a0a0a"/>
<circle cx="661.50" cy="414.00" r="2.15" fill="#0a0a0a"/>
<circle cx="674.00" cy="414.00" r="2.15" fill="#0a0a0a"/>
<circle cx="667.40" cy="420.00" r="2.15" fill="#0a0a0a"/>
<line x1="667.40" y1="483.00" x2="667.40" y2="488.00" stroke="#111" stroke-width="1.3" stroke-linecap="butt"/>
<line x1="572.10" y1="369.40" x2="572.10" y2="483.70" stroke="#111" stroke-width="1.35" stroke-linecap="butt"/>
<line x1="566.60" y1="483.00" x2="685.00" y2="483.00" stroke="#111" stroke-width="1.4" stroke-linecap="butt"/>
<line x1="567.10" y1="370.00" x2="572.10" y2="370.00" stroke="#111" stroke-width="1.3" stroke-linecap="butt"/>
<text x="563.80" y="371.80" font-family='"Liberation Sans", sans-serif' font-size="8.9" font-weight="bold" text-anchor="end" fill="#111">0.20</text>
<line x1="567.10" y1="398.30" x2="572.10" y2="398.30" stroke="#111" stroke-width="1.3" stroke-linecap="butt"/>
<text x="563.80" y="400.10" font-family='"Liberation Sans", sans-serif' font-size="8.9" font-weight="bold" text-anchor="end" fill="#111">0.15</text>
<line x1="567.10" y1="426.50" x2="572.10" y2="426.50" stroke="#111" stroke-width="1.3" stroke-linecap="butt"/>
<text x="563.80" y="428.30" font-family='"Liberation Sans", sans-serif' font-size="8.9" font-weight="bold" text-anchor="end" fill="#111">0.10</text>
<line x1="567.10" y1="454.70" x2="572.10" y2="454.70" stroke="#111" stroke-width="1.3" stroke-linecap="butt"/>
<text x="563.80" y="456.50" font-family='"Liberation Sans", sans-serif' font-size="8.9" font-weight="bold" text-anchor="end" fill="#111">0.05</text>
<line x1="567.10" y1="483.00" x2="572.10" y2="483.00" stroke="#111" stroke-width="1.3" stroke-linecap="butt"/>
<text x="563.80" y="484.80" font-family='"Liberation Sans", sans-serif' font-size="8.9" font-weight="bold" text-anchor="end" fill="#111">0.00</text>
<path d="M615.00,344.70 V337.70 H667.60 V368.30" fill="none" stroke="#111" stroke-width="1.25" stroke-linejoin="miter"/>
<path d="M588.70,369.00 V362.80 H641.60 V369.00" fill="none" stroke="#111" stroke-width="1.25" stroke-linejoin="miter"/>
<path d="M588.80,448.10 V387.40 H615.20 V450.90" fill="none" stroke="#111" stroke-width="1.25" stroke-linejoin="miter"/>
<path d="M641.40,394.00 V387.40 H667.80 V402.60" fill="none" stroke="#111" stroke-width="1.25" stroke-linejoin="miter"/>
<text x="625.00" y="331.80" font-family='"Liberation Sans", sans-serif' font-size="9.1" font-weight="normal" text-anchor="start" fill="#111">p&lt;0.0001</text>
<text x="601.90" y="356.60" font-family='"Liberation Sans", sans-serif' font-size="9.1" font-weight="normal" text-anchor="start" fill="#111">p=0.0009</text>
<text x="588.70" y="381.20" font-family='"Liberation Sans", sans-serif' font-size="9.1" font-weight="normal" text-anchor="start" fill="#111">p=0.9872</text>
<text x="641.10" y="381.20" font-family='"Liberation Sans", sans-serif' font-size="9.1" font-weight="normal" text-anchor="start" fill="#111">p=0.9298</text>
<text x="0.00" y="0.00" font-family='"Liberation Sans", sans-serif' font-size="8.9" font-weight="bold" text-anchor="end" fill="#111" transform="translate(593.50,494.60) rotate(-45)">SM22α-Cre</text>
<text x="0.00" y="0.00" font-family='"Liberation Sans", sans-serif' font-size="8.9" font-weight="bold" text-anchor="end" fill="#111" transform="translate(620.00,494.60) rotate(-45)">GC-B smcKO</text>
<text x="0.00" y="0.00" font-family='"Liberation Sans", sans-serif' font-size="8.9" font-weight="bold" text-anchor="end" fill="#111" transform="translate(646.00,494.60) rotate(-45)">SM22α-Cre</text>
<text x="0.00" y="0.00" font-family='"Liberation Sans", sans-serif' font-size="8.9" font-weight="bold" text-anchor="end" fill="#111" transform="translate(672.00,494.60) rotate(-45)">GC-B smcKO</text>
<line x1="570.10" y1="535.60" x2="615.50" y2="535.60" stroke="#3a2d2d" stroke-width="1.2" stroke-linecap="butt"/>
<text x="572.60" y="548.80" font-family='"Liberation Sans", sans-serif' font-size="11.5" font-weight="bold" text-anchor="start" fill="#3a2d2d">MCTp(-)</text>
<line x1="622.20" y1="535.60" x2="671.40" y2="535.60" stroke="#3a2d2d" stroke-width="1.2" stroke-linecap="butt"/>
<text x="629.20" y="548.80" font-family='"Liberation Sans", sans-serif' font-size="11.5" font-weight="bold" text-anchor="start" fill="#3a2d2d">MCTp(+)</text>
<text transform="translate(535.4,518.8) rotate(-90)" font-family='"Liberation Serif", serif' font-size="11.3" font-weight="bold" fill="#111">Percent medial wall thickness (%)</text>
<text x="516.00" y="321.60" font-family='"Liberation Sans", sans-serif' font-size="18" font-weight="bold" text-anchor="start" fill="#1a1212">h</text>
<filter id="hblur" x="-5%" y="-5%" width="110%" height="110%"><feGaussianBlur stdDeviation="0.5"/></filter>
<clipPath id="cl_d1"><rect x="519.4" y="61.3" width="79.10" height="78.30"/></clipPath>
<g clip-path="url(#cl_d1)"><g filter="url(#hblur)">
<rect x="519.4" y="61.3" width="79.10" height="78.30" fill="#d8589c"/>
<filter id="tx_d1_3" filterUnits="userSpaceOnUse" x="519.4" y="61.3" width="79.10" height="78.30" color-interpolation-filters="sRGB"><feTurbulence type="fractalNoise" baseFrequency="0.3" numOctaves="2" seed="3" result="n1"/><feColorMatrix in="n1" type="matrix" values="0 0 0 0 0.478  0 0 0 0 0.200  0 0 0 0 0.580  8.0 0 0 0 -4.25" result="pur"/><feTurbulence type="fractalNoise" baseFrequency="0.24" numOctaves="2" seed="14" result="n2"/><feColorMatrix in="n2" type="matrix" values="0 0 0 0 0.953  0 0 0 0 0.737  0 0 0 0 0.847  0 6.0 0 0 -3.5" result="lit"/><feTurbulence type="fractalNoise" baseFrequency="0.085" numOctaves="3" seed="26" result="n3"/><feColorMatrix in="n3" type="matrix" values="0 0 0 0 0.890  0 0 0 0 0.937  0 0 0 0 0.914  0 0 16.0 0 -10.7" result="hol"/><feMerge><feMergeNode in="lit"/><feMergeNode in="pur"/><feMergeNode in="hol"/></feMerge><feComposite in2="SourceGraphic" operator="in"/></filter>
<rect x="519.4" y="61.3" width="79.10" height="78.30" fill="#fff" filter="url(#tx_d1_3)" opacity="1.0"/>
<filter id="rg_d1_5" filterUnits="userSpaceOnUse" x="513.4" y="55.3" width="91.10" height="90.30" color-interpolation-filters="sRGB"><feTurbulence type="fractalNoise" baseFrequency="0.1" numOctaves="3" seed="5" result="t"/><feDisplacementMap in="SourceGraphic" in2="t" scale="9.0" xChannelSelector="R" yChannelSelector="G"/></filter>
<g fill="#e3efe9" filter="url(#rg_d1_5)">
<ellipse cx="534.19" cy="102.23" rx="9.33" ry="8.43"/>
<ellipse cx="531.30" cy="126.10" rx="8.43" ry="9.33"/>
<ellipse cx="562.40" cy="118.14" rx="6.02" ry="4.96"/>
<ellipse cx="550.10" cy="128.27" rx="6.92" ry="4.81"/>
<ellipse cx="550.10" cy="68.96" rx="5.42" ry="3.91"/>
<ellipse cx="536.36" cy="76.19" rx="4.51" ry="3.76"/>
<ellipse cx="581.21" cy="88.49" rx="3.46" ry="3.91"/>
<ellipse cx="591.33" cy="93.55" rx="3.91" ry="4.51"/>
<ellipse cx="592.78" cy="115.25" rx="5.42" ry="6.32"/>
<ellipse cx="576.14" cy="99.34" rx="3.31" ry="2.71"/>
<ellipse cx="576.87" cy="123.21" rx="4.51" ry="3.31"/>
<ellipse cx="594.23" cy="68.96" rx="3.91" ry="4.51"/>
<ellipse cx="523.34" cy="68.23" rx="3.31" ry="3.31"/>
<ellipse cx="524.06" cy="84.87" rx="3.01" ry="3.76"/>
<ellipse cx="559.51" cy="80.53" rx="2.26" ry="1.81"/>
<ellipse cx="568.19" cy="72.57" rx="2.71" ry="2.11"/>
<ellipse cx="588.44" cy="128.99" rx="4.21" ry="3.01"/>
<ellipse cx="543.59" cy="137.67" rx="6.02" ry="2.41"/>
<ellipse cx="566.74" cy="136.23" rx="4.51" ry="2.11"/>
<ellipse cx="582.65" cy="69.68" rx="3.01" ry="2.26"/>
<ellipse cx="540.70" cy="111.63" rx="2.71" ry="2.11"/>
<ellipse cx="585.55" cy="104.40" rx="2.11" ry="2.41"/>
</g>
<filter id="rg_d1_6" filterUnits="userSpaceOnUse" x="513.4" y="55.3" width="91.10" height="90.30" color-interpolation-filters="sRGB"><feTurbulence type="fractalNoise" baseFrequency="0.14" numOctaves="3" seed="6" result="t"/><feDisplacementMap in="SourceGraphic" in2="t" scale="5.0" xChannelSelector="R" yChannelSelector="G"/></filter>
<g filter="url(#rg_d1_6)">
<path d="M542.87,84.87 C544.20,83.86 546.61,82.77 548.66,82.41 C550.71,82.05 553.36,82.05 555.17,82.70 C556.97,83.35 558.42,84.75 559.51,86.32 C560.59,87.88 560.71,90.42 561.68,92.10 C562.64,93.79 564.09,95.00 565.29,96.44 C566.50,97.89 568.07,98.97 568.91,100.78 C569.75,102.59 570.36,105.36 570.36,107.29 C570.36,109.22 569.99,111.34 568.91,112.36 C567.82,113.37 565.41,113.61 563.85,113.37 C562.28,113.13 560.59,112.16 559.51,110.91 C558.42,109.66 558.42,107.05 557.34,105.85 C556.25,104.64 554.56,104.28 553.00,103.68 C551.43,103.07 549.38,103.19 547.93,102.23 C546.49,101.27 545.28,99.58 544.32,97.89 C543.35,96.20 542.75,93.67 542.15,92.10 C541.54,90.54 540.58,89.69 540.70,88.49 C540.82,87.28 541.54,85.88 542.87,84.87Z" fill="#e2407a" stroke="#35267c" stroke-width="1.9" stroke-linecap="round" stroke-linejoin="round"/>
<filter id="tx_d1_8" filterUnits="userSpaceOnUse" x="519.4" y="61.3" width="79.10" height="78.30" color-interpolation-filters="sRGB"><feTurbulence type="fractalNoise" baseFrequency="0.3" numOctaves="2" seed="8" result="n1"/><feColorMatrix in="n1" type="matrix" values="0 0 0 0 0.769  0 0 0 0 0.165  0 0 0 0 0.384  7.0 0 0 0 -3.8" result="pur"/><feTurbulence type="fractalNoise" baseFrequency="0.3" numOctaves="2" seed="19" result="n2"/><feColorMatrix in="n2" type="matrix" values="0 0 0 0 0.961  0 0 0 0 0.604  0 0 0 0 0.706  0 7.0 0 0 -3.7" result="lit"/><feTurbulence type="fractalNoise" baseFrequency="0.085" numOctaves="3" seed="31" result="n3"/><feColorMatrix in="n3" type="matrix" values="0 0 0 0 0.890  0 0 0 0 0.937  0 0 0 0 0.914  0 0 16.0 0 -40" result="hol"/><feMerge><feMergeNode in="lit"/><feMergeNode in="pur"/><feMergeNode in="hol"/></feMerge><feComposite in2="SourceGraphic" operator="in"/></filter>
<path d="M542.87,84.87 C544.20,83.86 546.61,82.77 548.66,82.41 C550.71,82.05 553.36,82.05 555.17,82.70 C556.97,83.35 558.42,84.75 559.51,86.32 C560.59,87.88 560.71,90.42 561.68,92.10 C562.64,93.79 564.09,95.00 565.29,96.44 C566.50,97.89 568.07,98.97 568.91,100.78 C569.75,102.59 570.36,105.36 570.36,107.29 C570.36,109.22 569.99,111.34 568.91,112.36 C567.82,113.37 565.41,113.61 563.85,113.37 C562.28,113.13 560.59,112.16 559.51,110.91 C558.42,109.66 558.42,107.05 557.34,105.85 C556.25,104.64 554.56,104.28 553.00,103.68 C551.43,103.07 549.38,103.19 547.93,102.23 C546.49,101.27 545.28,99.58 544.32,97.89 C543.35,96.20 542.75,93.67 542.15,92.10 C541.54,90.54 540.58,89.69 540.70,88.49 C540.82,87.28 541.54,85.88 542.87,84.87Z" fill="#fff" filter="url(#tx_d1_8)"/>
</g>
<rect x="573.2" y="132.1" width="21.70" height="3.80" fill="#fff"/>
</g></g>
<clipPath id="cl_d2"><rect x="598.5" y="61.3" width="81.30" height="78.30"/></clipPath>
<g clip-path="url(#cl_d2)"><g filter="url(#hblur)">
<rect x="598.5" y="61.3" width="81.30" height="78.30" fill="#e3efe9"/>
<filter id="rg_d2_9" filterUnits="userSpaceOnUse" x="592.5" y="55.3" width="93.30" height="90.30" color-interpolation-filters="sRGB"><feTurbulence type="fractalNoise" baseFrequency="0.2" numOctaves="3" seed="9" result="t"/><feDisplacementMap in="SourceGraphic" in2="t" scale="5.0" xChannelSelector="R" yChannelSelector="G"/></filter>
<filter id="rg_d2_10" filterUnits="userSpaceOnUse" x="592.5" y="55.3" width="93.30" height="90.30" color-interpolation-filters="sRGB"><feTurbulence type="fractalNoise" baseFrequency="0.33" numOctaves="3" seed="10" result="t"/><feDisplacementMap in="SourceGraphic" in2="t" scale="5.5" xChannelSelector="R" yChannelSelector="G"/></filter>
<g filter="url(#rg_d2_9)">
<path d="M653.97,62.45 C654.94,63.41 657.83,66.79 659.76,68.23 C661.69,69.68 663.62,70.89 665.55,71.13 C667.47,71.37 669.09,70.89 671.33,69.68 C673.58,68.47 677.72,64.86 679.00,63.89" fill="none" stroke="#d566aa" stroke-width="3.3" stroke-linecap="round" stroke-linejoin="round"/>
<path d="M653.97,62.45 C654.94,63.41 657.83,66.79 659.76,68.23 C661.69,69.68 663.62,70.89 665.55,71.13 C667.47,71.37 669.09,70.89 671.33,69.68 C673.58,68.47 677.72,64.86 679.00,63.89" fill="none" stroke="#63329c" stroke-width="1.8" stroke-linecap="round" stroke-linejoin="round" stroke-dasharray="1.3 2.6" opacity="0.9"/>
<path d="M646.74,69.68 C648.43,70.40 654.58,73.06 656.87,74.02 C659.16,74.98 659.88,75.23 660.48,75.47" fill="none" stroke="#d566aa" stroke-width="3.3" stroke-linecap="round" stroke-linejoin="round"/>
<path d="M646.74,69.68 C648.43,70.40 654.58,73.06 656.87,74.02 C659.16,74.98 659.88,75.23 660.48,75.47" fill="none" stroke="#63329c" stroke-width="1.8" stroke-linecap="round" stroke-linejoin="round" stroke-dasharray="1.3 2.6" opacity="0.9"/>
<path d="M674.23,75.47 C674.11,77.40 672.90,84.51 673.50,87.04 C674.11,89.57 677.12,90.05 677.84,90.66" fill="none" stroke="#d566aa" stroke-width="3.3" stroke-linecap="round" stroke-linejoin="round"/>
<path d="M674.23,75.47 C674.11,77.40 672.90,84.51 673.50,87.04 C674.11,89.57 677.12,90.05 677.84,90.66" fill="none" stroke="#63329c" stroke-width="1.8" stroke-linecap="round" stroke-linejoin="round" stroke-dasharray="1.3 2.6" opacity="0.9"/>
<path d="M662.65,108.74 C664.10,108.50 668.61,107.05 671.33,107.29 C674.06,107.53 677.72,109.70 679.00,110.19" fill="none" stroke="#d566aa" stroke-width="3.3" stroke-linecap="round" stroke-linejoin="round"/>
<path d="M662.65,108.74 C664.10,108.50 668.61,107.05 671.33,107.29 C674.06,107.53 677.72,109.70 679.00,110.19" fill="none" stroke="#63329c" stroke-width="1.8" stroke-linecap="round" stroke-linejoin="round" stroke-dasharray="1.3 2.6" opacity="0.9"/>
<path d="M661.21,118.87 C662.41,119.35 665.47,121.76 668.44,121.76 C671.41,121.76 677.24,119.35 679.00,118.87" fill="none" stroke="#d566aa" stroke-width="3.3" stroke-linecap="round" stroke-linejoin="round"/>
<path d="M661.21,118.87 C662.41,119.35 665.47,121.76 668.44,121.76 C671.41,121.76 677.24,119.35 679.00,118.87" fill="none" stroke="#63329c" stroke-width="1.8" stroke-linecap="round" stroke-linejoin="round" stroke-dasharray="1.3 2.6" opacity="0.9"/>
<path d="M614.91,136.23 C616.12,135.02 619.25,130.92 622.15,128.99 C625.04,127.06 629.38,125.38 632.27,124.65 C635.17,123.93 637.58,123.93 639.51,124.65 C641.44,125.38 642.16,127.55 643.85,128.99 C645.53,130.44 647.46,131.77 649.63,133.33 C651.80,134.90 655.66,137.55 656.87,138.40" fill="none" stroke="#d566aa" stroke-width="3.3" stroke-linecap="round" stroke-linejoin="round"/>
<path d="M614.91,136.23 C616.12,135.02 619.25,130.92 622.15,128.99 C625.04,127.06 629.38,125.38 632.27,124.65 C635.17,123.93 637.58,123.93 639.51,124.65 C641.44,125.38 642.16,127.55 643.85,128.99 C645.53,130.44 647.46,131.77 649.63,133.33 C651.80,134.90 655.66,137.55 656.87,138.40" fill="none" stroke="#63329c" stroke-width="1.8" stroke-linecap="round" stroke-linejoin="round" stroke-dasharray="1.3 2.6" opacity="0.9"/>
<path d="M659.76,124.65 C660.97,124.41 665.06,122.72 666.99,123.21 C668.92,123.69 670.61,126.82 671.33,127.55" fill="none" stroke="#d566aa" stroke-width="3.3" stroke-linecap="round" stroke-linejoin="round"/>
<path d="M659.76,124.65 C660.97,124.41 665.06,122.72 666.99,123.21 C668.92,123.69 670.61,126.82 671.33,127.55" fill="none" stroke="#63329c" stroke-width="1.8" stroke-linecap="round" stroke-linejoin="round" stroke-dasharray="1.3 2.6" opacity="0.9"/>
<path d="M633.72,118.14 L642.40,119.16" fill="none" stroke="#d566aa" stroke-width="3.3" stroke-linecap="round" stroke-linejoin="round"/>
<path d="M633.72,118.14 L642.40,119.16" fill="none" stroke="#63329c" stroke-width="1.8" stroke-linecap="round" stroke-linejoin="round" stroke-dasharray="1.3 2.6" opacity="0.9"/>
<path d="M666.99,79.81 L671.33,82.70" fill="none" stroke="#d566aa" stroke-width="3.3" stroke-linecap="round" stroke-linejoin="round"/>
<path d="M666.99,79.81 L671.33,82.70" fill="none" stroke="#63329c" stroke-width="1.8" stroke-linecap="round" stroke-linejoin="round" stroke-dasharray="1.3 2.6" opacity="0.9"/>
<path d="M642.40,130.44 L646.74,136.23" fill="none" stroke="#d566aa" stroke-width="3.3" stroke-linecap="round" stroke-linejoin="round"/>
<path d="M642.40,130.44 L646.74,136.23" fill="none" stroke="#63329c" stroke-width="1.8" stroke-linecap="round" stroke-linejoin="round" stroke-dasharray="1.3 2.6" opacity="0.9"/>
<path d="M671.33,97.17 L679.00,100.06" fill="none" stroke="#d566aa" stroke-width="3.3" stroke-linecap="round" stroke-linejoin="round"/>
<path d="M671.33,97.17 L679.00,100.06" fill="none" stroke="#63329c" stroke-width="1.8" stroke-linecap="round" stroke-linejoin="round" stroke-dasharray="1.3 2.6" opacity="0.9"/>
<path d="M674.23,104.40 L679.00,104.40" fill="none" stroke="#d566aa" stroke-width="3.3" stroke-linecap="round" stroke-linejoin="round"/>
<path d="M674.23,104.40 L679.00,104.40" fill="none" stroke="#63329c" stroke-width="1.8" stroke-linecap="round" stroke-linejoin="round" stroke-dasharray="1.3 2.6" opacity="0.9"/>
<path d="M661.21,97.17 C662.89,96.56 668.80,93.55 671.33,93.55 C673.86,93.55 675.55,96.56 676.40,97.17" fill="none" stroke="#a8489c" stroke-width="4.2" stroke-linecap="round" stroke-linejoin="round"/>
<path d="M642.40,89.93 C643.12,88.78 646.26,87.04 648.19,87.04 C650.12,87.04 652.04,88.61 653.97,89.93 C655.90,91.26 659.28,93.50 659.76,95.00 C660.24,96.49 658.55,98.73 656.87,98.90 C655.18,99.07 651.80,96.83 649.63,96.01 C647.46,95.19 645.05,95.00 643.85,93.98 C642.64,92.97 641.68,91.09 642.40,89.93Z" fill="#a55cb0"/>
<path d="M625.04,97.17 C626.25,96.56 629.38,94.39 632.27,93.55 C635.17,92.71 640.71,92.34 642.40,92.10" fill="none" stroke="#b565ae" stroke-width="2.6" stroke-linecap="round" stroke-linejoin="round"/>
<path d="M623.59,108.74 C624.56,109.70 626.73,112.96 629.38,114.53 C632.03,116.09 637.82,117.54 639.51,118.14" fill="none" stroke="#b565ae" stroke-width="2.2" stroke-linecap="round" stroke-linejoin="round"/>
</g>
<g filter="url(#rg_d2_10)">
<path d="M640.23,61.72 C640.83,63.29 643.73,68.35 643.85,71.13 C643.97,73.90 642.88,76.43 640.95,78.36 C639.02,80.29 635.41,81.25 632.27,82.70 C629.14,84.15 624.80,85.11 622.15,87.04 C619.49,88.97 617.81,91.38 616.36,94.27 C614.91,97.17 614.48,101.02 613.47,104.40 C612.45,107.78 611.20,111.39 610.28,114.53 C609.37,117.66 607.63,120.80 607.97,123.21 C608.31,125.62 610.19,128.08 612.31,128.99 C614.43,129.91 619.30,128.75 620.70,128.70" fill="none" stroke="#c92f86" stroke-width="9.4" stroke-linecap="round" stroke-linejoin="round"/>
<path d="M640.23,61.72 C640.83,63.29 643.73,68.35 643.85,71.13 C643.97,73.90 642.88,76.43 640.95,78.36 C639.02,80.29 635.41,81.25 632.27,82.70 C629.14,84.15 624.80,85.11 622.15,87.04 C619.49,88.97 617.81,91.38 616.36,94.27 C614.91,97.17 614.48,101.02 613.47,104.40 C612.45,107.78 611.20,111.39 610.28,114.53 C609.37,117.66 607.63,120.80 607.97,123.21 C608.31,125.62 610.19,128.08 612.31,128.99 C614.43,129.91 619.30,128.75 620.70,128.70" fill="none" stroke="#7d2c92" stroke-width="4.6" stroke-linecap="round" stroke-linejoin="round" stroke-dasharray="1.6 2.2" transform="translate(1.6,1.2)"/>
</g>
<filter id="rg_d2_12" filterUnits="userSpaceOnUse" x="592.5" y="55.3" width="93.30" height="90.30" color-interpolation-filters="sRGB"><feTurbulence type="fractalNoise" baseFrequency="0.25" numOctaves="3" seed="12" result="t"/><feDisplacementMap in="SourceGraphic" in2="t" scale="3.0" xChannelSelector="R" yChannelSelector="G"/></filter>
<g filter="url(#rg_d2_12)">
<path d="M627.21,102.95 C627.57,101.75 628.54,100.30 630.10,99.34 C631.67,98.37 634.08,97.41 636.61,97.17 C639.14,96.93 642.88,97.17 645.29,97.89 C647.70,98.61 649.15,99.94 651.08,101.51 C653.01,103.07 655.66,105.73 656.87,107.29 C658.07,108.86 659.04,109.95 658.31,110.91 C657.59,111.87 654.94,112.43 652.53,113.08 C650.12,113.73 646.50,114.69 643.85,114.82 C641.19,114.94 638.78,114.57 636.61,113.80 C634.44,113.03 632.27,111.39 630.83,110.19 C629.38,108.98 628.54,107.78 627.93,106.57 C627.33,105.36 626.85,104.16 627.21,102.95Z" fill="none" stroke="#b98cc6" stroke-width="6.4" stroke-linecap="round" stroke-linejoin="round"/>
<path d="M627.21,102.95 C627.57,101.75 628.54,100.30 630.10,99.34 C631.67,98.37 634.08,97.41 636.61,97.17 C639.14,96.93 642.88,97.17 645.29,97.89 C647.70,98.61 649.15,99.94 651.08,101.51 C653.01,103.07 655.66,105.73 656.87,107.29 C658.07,108.86 659.04,109.95 658.31,110.91 C657.59,111.87 654.94,112.43 652.53,113.08 C650.12,113.73 646.50,114.69 643.85,114.82 C641.19,114.94 638.78,114.57 636.61,113.80 C634.44,113.03 632.27,111.39 630.83,110.19 C629.38,108.98 628.54,107.78 627.93,106.57 C627.33,105.36 626.85,104.16 627.21,102.95Z" fill="#ecdfe6" stroke="#2f2068" stroke-width="2.9" stroke-linecap="round" stroke-linejoin="round"/>
</g>
<g fill="#d9477e">
<ellipse cx="638.06" cy="103.68" rx="1.16" ry="1.16"/>
<ellipse cx="642.40" cy="106.57" rx="1.30" ry="1.01"/>
<ellipse cx="646.74" cy="104.40" rx="1.01" ry="1.16"/>
<ellipse cx="640.23" cy="108.02" rx="1.01" ry="0.87"/>
<ellipse cx="648.91" cy="108.74" rx="1.16" ry="0.87"/>
<ellipse cx="635.89" cy="105.85" rx="0.87" ry="0.87"/>
<ellipse cx="643.85" cy="102.95" rx="0.87" ry="0.87"/>
</g>
<rect x="653.7" y="132.1" width="23.00" height="3.80" fill="#fff"/>
</g></g>
<clipPath id="cl_d3"><rect x="519.4" y="139.6" width="79.10" height="81.00"/></clipPath>
<g clip-path="url(#cl_d3)"><g filter="url(#hblur)">
<rect x="519.4" y="139.6" width="79.10" height="81.00" fill="#d0589f"/>
<filter id="tx_d3_17" filterUnits="userSpaceOnUse" x="519.4" y="139.6" width="79.10" height="81.00" color-interpolation-filters="sRGB"><feTurbulence type="fractalNoise" baseFrequency="0.3" numOctaves="2" seed="17" result="n1"/><feColorMatrix in="n1" type="matrix" values="0 0 0 0 0.478  0 0 0 0 0.200  0 0 0 0 0.580  7.5 0 0 0 -3.55" result="pur"/><feTurbulence type="fractalNoise" baseFrequency="0.24" numOctaves="2" seed="28" result="n2"/><feColorMatrix in="n2" type="matrix" values="0 0 0 0 0.953  0 0 0 0 0.737  0 0 0 0 0.847  0 6.0 0 0 -3.5" result="lit"/><feTurbulence type="fractalNoise" baseFrequency="0.085" numOctaves="3" seed="40" result="n3"/><feColorMatrix in="n3" type="matrix" values="0 0 0 0 0.890  0 0 0 0 0.937  0 0 0 0 0.914  0 0 16.0 0 -10.7" result="hol"/><feMerge><feMergeNode in="lit"/><feMergeNode in="pur"/><feMergeNode in="hol"/></feMerge><feComposite in2="SourceGraphic" operator="in"/></filter>
<rect x="519.4" y="139.6" width="79.10" height="81.00" fill="#fff" filter="url(#tx_d3_17)" opacity="1.0"/>
<filter id="rg_d3_21" filterUnits="userSpaceOnUse" x="513.4" y="133.6" width="91.10" height="93.00" color-interpolation-filters="sRGB"><feTurbulence type="fractalNoise" baseFrequency="0.1" numOctaves="3" seed="21" result="t"/><feDisplacementMap in="SourceGraphic" in2="t" scale="9.0" xChannelSelector="R" yChannelSelector="G"/></filter>
<g fill="#e3efe9" filter="url(#rg_d3_21)">
<ellipse cx="588.44" cy="183.40" rx="7.52" ry="8.10"/>
<ellipse cx="524.79" cy="173.27" rx="5.79" ry="6.65"/>
<ellipse cx="529.13" cy="154.47" rx="4.34" ry="3.62"/>
<ellipse cx="559.51" cy="144.34" rx="5.79" ry="3.62"/>
<ellipse cx="581.21" cy="145.79" rx="4.34" ry="2.89"/>
<ellipse cx="594.23" cy="145.79" rx="3.62" ry="3.62"/>
<ellipse cx="569.63" cy="157.36" rx="3.62" ry="2.60"/>
<ellipse cx="586.99" cy="173.27" rx="4.34" ry="2.17"/>
<ellipse cx="545.04" cy="196.42" rx="3.62" ry="3.62"/>
<ellipse cx="526.23" cy="207.99" rx="3.62" ry="4.34"/>
<ellipse cx="540.70" cy="209.44" rx="2.89" ry="2.17"/>
<ellipse cx="533.47" cy="144.34" rx="3.62" ry="2.17"/>
<ellipse cx="521.89" cy="158.81" rx="2.17" ry="2.89"/>
<ellipse cx="562.40" cy="215.23" rx="3.62" ry="2.17"/>
<ellipse cx="592.78" cy="202.21" rx="2.89" ry="2.89"/>
</g>
<g fill="#eaa6c8" filter="url(#rg_d3_21)">
<ellipse cx="527.68" cy="190.63" rx="4.34" ry="2.89"/>
</g>
<linearGradient id="lg_d3" x1="0" y1="0" x2="1" y2="1"><stop offset="0" stop-color="#f0b7cf"/><stop offset="0.55" stop-color="#f0dbe2"/><stop offset="1" stop-color="#e9efec"/></linearGradient>
<filter id="rg_d3_22" filterUnits="userSpaceOnUse" x="513.4" y="133.6" width="91.10" height="93.00" color-interpolation-filters="sRGB"><feTurbulence type="fractalNoise" baseFrequency="0.2" numOctaves="3" seed="22" result="t"/><feDisplacementMap in="SourceGraphic" in2="t" scale="3.5" xChannelSelector="R" yChannelSelector="G"/></filter>
<path d="M550.10,153.74 L555.17,160.25 L562.40,164.59 L573.25,168.21 L574.70,176.17 L576.87,183.40 L583.38,193.53 L576.87,197.87 L570.36,204.38 L562.40,199.31 L555.17,192.08 L548.66,181.95 L544.32,176.17 L536.36,174.00 L539.25,168.93 L546.49,163.15 L548.66,157.36Z" fill="url(#lg_d3)" stroke="#33247a" stroke-width="2.2" stroke-linejoin="round" filter="url(#rg_d3_22)"/>
<rect x="572.4" y="211.9" width="23.60" height="3.40" fill="#fff"/>
</g></g>
<clipPath id="cl_d4"><rect x="598.5" y="139.6" width="81.30" height="81.00"/></clipPath>
<g clip-path="url(#cl_d4)"><g filter="url(#hblur)">
<rect x="598.5" y="139.6" width="81.30" height="81.00" fill="#d0569c"/>
<filter id="tx_d4_29" filterUnits="userSpaceOnUse" x="598.5" y="139.6" width="81.30" height="81.00" color-interpolation-filters="sRGB"><feTurbulence type="fractalNoise" baseFrequency="0.3" numOctaves="2" seed="29" result="n1"/><feColorMatrix in="n1" type="matrix" values="0 0 0 0 0.478  0 0 0 0 0.200  0 0 0 0 0.580  8.0 0 0 0 -4.25" result="pur"/><feTurbulence type="fractalNoise" baseFrequency="0.24" numOctaves="2" seed="40" result="n2"/><feColorMatrix in="n2" type="matrix" values="0 0 0 0 0.953  0 0 0 0 0.737  0 0 0 0 0.847  0 6.0 0 0 -3.5" result="lit"/><feTurbulence type="fractalNoise" baseFrequency="0.085" numOctaves="3" seed="52" result="n3"/><feColorMatrix in="n3" type="matrix" values="0 0 0 0 0.890  0 0 0 0 0.937  0 0 0 0 0.914  0 0 16.0 0 -11.2" result="hol"/><feMerge><feMergeNode in="lit"/><feMergeNode in="pur"/><feMergeNode in="hol"/></feMerge><feComposite in2="SourceGraphic" operator="in"/></filter>
<rect x="598.5" y="139.6" width="81.30" height="81.00" fill="#fff" filter="url(#tx_d4_29)" opacity="1.0"/>
<filter id="rg_d4_31" filterUnits="userSpaceOnUse" x="592.5" y="133.6" width="93.30" height="93.00" color-interpolation-filters="sRGB"><feTurbulence type="fractalNoise" baseFrequency="0.1" numOctaves="3" seed="31" result="t"/><feDisplacementMap in="SourceGraphic" in2="t" scale="9.0" xChannelSelector="R" yChannelSelector="G"/></filter>
<g filter="url(#rg_d4_31)" opacity="0.6">
<path d="M599.00,201.48 C601.41,200.28 608.64,195.62 613.47,194.25 C618.29,192.88 623.11,192.83 627.93,193.24 C632.76,193.65 638.78,194.97 642.40,196.71 C646.02,198.44 647.90,199.77 649.63,203.65 C651.37,207.53 652.29,217.28 652.82,220.00" fill="none" stroke="#8a2f96" stroke-width="6.5" stroke-linecap="round" stroke-linejoin="round"/>
<path d="M599.00,178.34 C600.93,177.97 606.96,176.09 610.57,176.17 C614.19,176.24 618.05,179.11 620.70,178.77 C623.35,178.43 625.52,174.91 626.49,174.14" fill="none" stroke="#8a2f96" stroke-width="6.0" stroke-linecap="round" stroke-linejoin="round"/>
<path d="M601.89,144.34 C603.34,144.58 607.92,145.06 610.57,145.79 C613.23,146.51 616.60,148.20 617.81,148.68" fill="none" stroke="#8a2f96" stroke-width="5.0" stroke-linecap="round" stroke-linejoin="round"/>
</g>
<g filter="url(#rg_d4_31)" fill="#e3efe9">
<path d="M597.55,153.74 C599.00,150.73 603.46,152.06 606.23,152.30 C609.01,152.54 612.55,153.62 614.19,155.19 C615.83,156.76 616.00,159.53 616.07,161.70 C616.14,163.87 614.33,166.16 614.62,168.21 C614.91,170.26 618.19,172.67 617.81,174.00 C617.42,175.32 614.48,176.34 612.31,176.17 C610.14,176.00 607.25,173.95 604.79,172.98 C602.33,172.02 598.76,173.59 597.55,170.38 C596.35,167.17 596.11,156.76 597.55,153.74Z" fill="#e3efe9"/>
<path d="M612.74,156.20 C613.59,156.49 618.17,152.03 620.70,150.42 C623.23,148.80 625.23,147.88 627.93,146.51 C630.63,145.14 634.73,143.45 636.90,142.17 C639.07,140.89 642.69,139.40 640.95,138.84 C639.22,138.29 629.86,138.05 626.49,138.84 C623.11,139.64 622.51,141.98 620.70,143.62 C618.89,145.26 616.96,146.58 615.64,148.68 C614.31,150.78 611.90,155.91 612.74,156.20Z" fill="#e3efe9"/>
</g>
<g fill="#e3efe9" filter="url(#rg_d4_31)">
<ellipse cx="664.10" cy="166.04" rx="4.63" ry="4.63"/>
<ellipse cx="662.65" cy="144.34" rx="4.05" ry="3.18"/>
<ellipse cx="674.23" cy="148.68" rx="3.18" ry="4.63"/>
<ellipse cx="675.67" cy="193.53" rx="3.18" ry="3.76"/>
<ellipse cx="630.10" cy="212.04" rx="6.08" ry="7.96"/>
<ellipse cx="623.59" cy="200.04" rx="2.89" ry="2.17"/>
<ellipse cx="668.44" cy="206.55" rx="2.17" ry="2.89"/>
<ellipse cx="646.74" cy="150.13" rx="2.17" ry="1.45"/>
<ellipse cx="620.70" cy="158.08" rx="2.89" ry="2.31"/>
<ellipse cx="671.33" cy="158.81" rx="2.60" ry="2.03"/>
</g>
<g fill="#ee9cc0" filter="url(#rg_d4_31)">
<ellipse cx="652.53" cy="191.36" rx="4.34" ry="2.03"/>
<ellipse cx="630.10" cy="182.68" rx="3.18" ry="1.45"/>
</g>
<filter id="rg_d4_33" filterUnits="userSpaceOnUse" x="592.5" y="133.6" width="93.30" height="93.00" color-interpolation-filters="sRGB"><feTurbulence type="fractalNoise" baseFrequency="0.25" numOctaves="3" seed="33" result="t"/><feDisplacementMap in="SourceGraphic" in2="t" scale="2.5" xChannelSelector="R" yChannelSelector="G"/></filter>
<path d="M632.27,174.72 C632.51,173.76 633.96,171.95 635.17,171.10 C636.37,170.26 638.42,169.17 639.51,169.66 C640.59,170.14 641.19,172.43 641.68,174.00 C642.16,175.56 641.31,177.85 642.40,179.06 C643.48,180.27 646.86,180.02 648.19,181.23 C649.51,182.44 650.36,184.85 650.36,186.29 C650.36,187.74 649.75,189.19 648.19,189.91 C646.62,190.63 643.36,190.63 640.95,190.63 C638.54,190.63 635.53,190.39 633.72,189.91 C631.91,189.43 630.46,188.58 630.10,187.74 C629.74,186.90 630.46,185.57 631.55,184.85 C632.63,184.12 635.65,184.36 636.61,183.40 C637.58,182.44 637.82,180.14 637.34,179.06 C636.85,177.97 634.56,177.61 633.72,176.89 C632.88,176.17 632.03,175.68 632.27,174.72Z" fill="#2d1c66" stroke="#2d1c66" stroke-width="1.0" stroke-linecap="round" stroke-linejoin="round" filter="url(#rg_d4_33)"/>
<g fill="#f1e4ec">
<ellipse cx="636.90" cy="172.84" rx="2.46" ry="1.88"/>
<ellipse cx="642.83" cy="185.86" rx="4.05" ry="1.88"/>
</g>
<rect x="653.0" y="211.9" width="23.50" height="3.40" fill="#fff"/>
</g></g>
<clipPath id="cl_g1"><rect x="339.4" y="346.0" width="81.00" height="80.30"/></clipPath>
<g clip-path="url(#cl_g1)"><g filter="url(#hblur)">
<rect x="339.4" y="346.0" width="81.00" height="80.30" fill="#e3efe9"/>
<filter id="rg_g1_43" filterUnits="userSpaceOnUse" x="333.4" y="340.0" width="93.00" height="92.30" color-interpolation-filters="sRGB"><feTurbulence type="fractalNoise" baseFrequency="0.2" numOctaves="3" seed="43" result="t"/><feDisplacementMap in="SourceGraphic" in2="t" scale="5.0" xChannelSelector="R" yChannelSelector="G"/></filter>
<g filter="url(#rg_g1_43)">
<path d="M340.00,359.74 C341.45,359.86 346.03,360.71 348.68,360.47 C351.33,360.23 353.98,358.30 355.91,358.30 C357.84,358.30 358.81,359.14 360.25,360.47 C361.70,361.79 363.15,364.57 364.59,366.25 C366.04,367.94 367.49,369.03 368.93,370.59 C370.38,372.16 372.55,374.81 373.27,375.66" fill="none" stroke="#d862a8" stroke-width="6.2" stroke-linecap="round" stroke-linejoin="round"/>
<path d="M340.00,359.74 C341.45,359.86 346.03,360.71 348.68,360.47 C351.33,360.23 353.98,358.30 355.91,358.30 C357.84,358.30 358.81,359.14 360.25,360.47 C361.70,361.79 363.15,364.57 364.59,366.25 C366.04,367.94 367.49,369.03 368.93,370.59 C370.38,372.16 372.55,374.81 373.27,375.66" fill="none" stroke="#6a3098" stroke-width="3.0" stroke-linecap="round" stroke-linejoin="round" stroke-dasharray="1.3 3.2" opacity="0.85"/>
<path d="M376.17,393.74 C376.70,394.95 379.06,399.24 379.35,400.97 C379.64,402.71 378.79,402.90 377.90,404.16 C377.01,405.41 374.65,407.77 374.00,408.50" fill="none" stroke="#d862a8" stroke-width="6.2" stroke-linecap="round" stroke-linejoin="round"/>
<path d="M376.17,393.74 C376.70,394.95 379.06,399.24 379.35,400.97 C379.64,402.71 378.79,402.90 377.90,404.16 C377.01,405.41 374.65,407.77 374.00,408.50" fill="none" stroke="#6a3098" stroke-width="3.0" stroke-linecap="round" stroke-linejoin="round" stroke-dasharray="1.3 3.2" opacity="0.85"/>
<path d="M397.14,358.30 C398.23,358.78 401.84,360.95 403.65,361.19 C405.46,361.43 407.27,359.98 407.99,359.74" fill="none" stroke="#d862a8" stroke-width="6.2" stroke-linecap="round" stroke-linejoin="round"/>
<path d="M397.14,358.30 C398.23,358.78 401.84,360.95 403.65,361.19 C405.46,361.43 407.27,359.98 407.99,359.74" fill="none" stroke="#6a3098" stroke-width="3.0" stroke-linecap="round" stroke-linejoin="round" stroke-dasharray="1.3 3.2" opacity="0.85"/>
<path d="M355.91,346.00 C356.40,346.96 358.57,349.74 358.81,351.79 C359.05,353.84 357.60,357.21 357.36,358.30" fill="none" stroke="#d366aa" stroke-width="3.7" stroke-linecap="round" stroke-linejoin="round"/>
<path d="M355.91,346.00 C356.40,346.96 358.57,349.74 358.81,351.79 C359.05,353.84 357.60,357.21 357.36,358.30" fill="none" stroke="#6a35a0" stroke-width="1.5" stroke-linecap="round" stroke-linejoin="round" stroke-dasharray="1.1 3.2" opacity="0.85"/>
<path d="M340.00,370.59 C341.21,370.35 344.58,369.87 347.23,369.15 C349.89,368.42 354.47,366.74 355.91,366.25" fill="none" stroke="#d366aa" stroke-width="3.7" stroke-linecap="round" stroke-linejoin="round"/>
<path d="M340.00,370.59 C341.21,370.35 344.58,369.87 347.23,369.15 C349.89,368.42 354.47,366.74 355.91,366.25" fill="none" stroke="#6a35a0" stroke-width="1.5" stroke-linecap="round" stroke-linejoin="round" stroke-dasharray="1.1 3.2" opacity="0.85"/>
<path d="M340.00,379.27 C341.45,379.03 346.27,378.55 348.68,377.83 C351.09,377.10 352.30,376.14 354.47,374.93 C356.64,373.73 360.49,371.32 361.70,370.59" fill="none" stroke="#d366aa" stroke-width="3.7" stroke-linecap="round" stroke-linejoin="round"/>
<path d="M340.00,379.27 C341.45,379.03 346.27,378.55 348.68,377.83 C351.09,377.10 352.30,376.14 354.47,374.93 C356.64,373.73 360.49,371.32 361.70,370.59" fill="none" stroke="#6a35a0" stroke-width="1.5" stroke-linecap="round" stroke-linejoin="round" stroke-dasharray="1.1 3.2" opacity="0.85"/>
<path d="M354.47,374.93 C354.71,376.38 356.15,381.20 355.91,383.61 C355.67,386.02 354.95,388.44 353.02,389.40 C351.09,390.36 346.51,389.64 344.34,389.40 C342.17,389.16 340.72,388.19 340.00,387.95" fill="none" stroke="#d366aa" stroke-width="3.7" stroke-linecap="round" stroke-linejoin="round"/>
<path d="M354.47,374.93 C354.71,376.38 356.15,381.20 355.91,383.61 C355.67,386.02 354.95,388.44 353.02,389.40 C351.09,390.36 346.51,389.64 344.34,389.40 C342.17,389.16 340.72,388.19 340.00,387.95" fill="none" stroke="#6a35a0" stroke-width="1.5" stroke-linecap="round" stroke-linejoin="round" stroke-dasharray="1.1 3.2" opacity="0.85"/>
<path d="M355.91,383.61 C357.36,383.85 362.42,385.54 364.59,385.06 C366.76,384.58 368.21,381.44 368.93,380.72" fill="none" stroke="#d366aa" stroke-width="3.7" stroke-linecap="round" stroke-linejoin="round"/>
<path d="M355.91,383.61 C357.36,383.85 362.42,385.54 364.59,385.06 C366.76,384.58 368.21,381.44 368.93,380.72" fill="none" stroke="#6a35a0" stroke-width="1.5" stroke-linecap="round" stroke-linejoin="round" stroke-dasharray="1.1 3.2" opacity="0.85"/>
<path d="M353.02,389.40 C353.26,390.85 355.19,396.39 354.47,398.08 C353.74,399.77 351.09,399.41 348.68,399.53 C346.27,399.65 341.45,398.92 340.00,398.80" fill="none" stroke="#d366aa" stroke-width="3.7" stroke-linecap="round" stroke-linejoin="round"/>
<path d="M353.02,389.40 C353.26,390.85 355.19,396.39 354.47,398.08 C353.74,399.77 351.09,399.41 348.68,399.53 C346.27,399.65 341.45,398.92 340.00,398.80" fill="none" stroke="#6a35a0" stroke-width="1.5" stroke-linecap="round" stroke-linejoin="round" stroke-dasharray="1.1 3.2" opacity="0.85"/>
<path d="M354.47,398.08 C355.91,397.60 360.74,395.91 363.15,395.19 C365.56,394.46 367.20,393.69 368.93,393.74 C370.67,393.79 372.79,395.19 373.56,395.48" fill="none" stroke="#d366aa" stroke-width="3.7" stroke-linecap="round" stroke-linejoin="round"/>
<path d="M354.47,398.08 C355.91,397.60 360.74,395.91 363.15,395.19 C365.56,394.46 367.20,393.69 368.93,393.74 C370.67,393.79 372.79,395.19 373.56,395.48" fill="none" stroke="#6a35a0" stroke-width="1.5" stroke-linecap="round" stroke-linejoin="round" stroke-dasharray="1.1 3.2" opacity="0.85"/>
<path d="M364.59,385.06 L368.93,393.74" fill="none" stroke="#d366aa" stroke-width="3.7" stroke-linecap="round" stroke-linejoin="round"/>
<path d="M364.59,385.06 L368.93,393.74" fill="none" stroke="#6a35a0" stroke-width="1.5" stroke-linecap="round" stroke-linejoin="round" stroke-dasharray="1.1 3.2" opacity="0.85"/>
<path d="M354.47,398.08 C354.95,399.53 357.60,404.59 357.36,406.76 C357.12,408.93 355.19,410.38 353.02,411.10 C350.85,411.82 346.51,411.34 344.34,411.10 C342.17,410.86 340.72,409.89 340.00,409.65" fill="none" stroke="#d366aa" stroke-width="3.7" stroke-linecap="round" stroke-linejoin="round"/>
<path d="M354.47,398.08 C354.95,399.53 357.60,404.59 357.36,406.76 C357.12,408.93 355.19,410.38 353.02,411.10 C350.85,411.82 346.51,411.34 344.34,411.10 C342.17,410.86 340.72,409.89 340.00,409.65" fill="none" stroke="#6a35a0" stroke-width="1.5" stroke-linecap="round" stroke-linejoin="round" stroke-dasharray="1.1 3.2" opacity="0.85"/>
<path d="M357.36,406.76 C358.81,407.00 363.39,407.97 366.04,408.21 C368.69,408.45 372.07,408.21 373.27,408.21" fill="none" stroke="#d366aa" stroke-width="3.7" stroke-linecap="round" stroke-linejoin="round"/>
<path d="M357.36,406.76 C358.81,407.00 363.39,407.97 366.04,408.21 C368.69,408.45 372.07,408.21 373.27,408.21" fill="none" stroke="#6a35a0" stroke-width="1.5" stroke-linecap="round" stroke-linejoin="round" stroke-dasharray="1.1 3.2" opacity="0.85"/>
<path d="M353.02,411.10 C352.78,412.31 351.09,416.40 351.57,418.33 C352.06,420.26 353.02,421.39 355.91,422.67 C358.81,423.95 366.76,425.45 368.93,426.00" fill="none" stroke="#d366aa" stroke-width="3.7" stroke-linecap="round" stroke-linejoin="round"/>
<path d="M353.02,411.10 C352.78,412.31 351.09,416.40 351.57,418.33 C352.06,420.26 353.02,421.39 355.91,422.67 C358.81,423.95 366.76,425.45 368.93,426.00" fill="none" stroke="#6a35a0" stroke-width="1.5" stroke-linecap="round" stroke-linejoin="round" stroke-dasharray="1.1 3.2" opacity="0.85"/>
<path d="M366.04,408.21 C366.52,409.17 367.00,412.79 368.93,413.99 C370.86,415.20 375.20,414.72 377.61,415.44 C380.02,416.16 381.23,418.33 383.40,418.33 C385.57,418.33 389.43,415.92 390.63,415.44" fill="none" stroke="#d366aa" stroke-width="3.7" stroke-linecap="round" stroke-linejoin="round"/>
<path d="M366.04,408.21 C366.52,409.17 367.00,412.79 368.93,413.99 C370.86,415.20 375.20,414.72 377.61,415.44 C380.02,416.16 381.23,418.33 383.40,418.33 C385.57,418.33 389.43,415.92 390.63,415.44" fill="none" stroke="#6a35a0" stroke-width="1.5" stroke-linecap="round" stroke-linejoin="round" stroke-dasharray="1.1 3.2" opacity="0.85"/>
<path d="M392.08,380.72 C393.04,380.96 395.94,382.17 397.87,382.17 C399.80,382.17 401.97,380.72 403.65,380.72 C405.34,380.72 407.27,381.93 407.99,382.17" fill="none" stroke="#d366aa" stroke-width="3.7" stroke-linecap="round" stroke-linejoin="round"/>
<path d="M392.08,380.72 C393.04,380.96 395.94,382.17 397.87,382.17 C399.80,382.17 401.97,380.72 403.65,380.72 C405.34,380.72 407.27,381.93 407.99,382.17" fill="none" stroke="#6a35a0" stroke-width="1.5" stroke-linecap="round" stroke-linejoin="round" stroke-dasharray="1.1 3.2" opacity="0.85"/>
<path d="M387.74,367.70 C387.26,366.49 385.09,362.64 384.85,360.47 C384.61,358.30 386.53,356.13 386.29,354.68 C386.05,353.23 383.64,353.23 383.40,351.79 C383.16,350.34 384.61,346.96 384.85,346.00" fill="none" stroke="#d366aa" stroke-width="3.7" stroke-linecap="round" stroke-linejoin="round"/>
<path d="M387.74,367.70 C387.26,366.49 385.09,362.64 384.85,360.47 C384.61,358.30 386.53,356.13 386.29,354.68 C386.05,353.23 383.64,353.23 383.40,351.79 C383.16,350.34 384.61,346.96 384.85,346.00" fill="none" stroke="#6a35a0" stroke-width="1.5" stroke-linecap="round" stroke-linejoin="round" stroke-dasharray="1.1 3.2" opacity="0.85"/>
<path d="M387.74,354.68 C388.95,355.40 392.80,358.78 394.97,359.02 C397.14,359.26 399.80,356.61 400.76,356.13" fill="none" stroke="#d366aa" stroke-width="3.7" stroke-linecap="round" stroke-linejoin="round"/>
<path d="M387.74,354.68 C388.95,355.40 392.80,358.78 394.97,359.02 C397.14,359.26 399.80,356.61 400.76,356.13" fill="none" stroke="#6a35a0" stroke-width="1.5" stroke-linecap="round" stroke-linejoin="round" stroke-dasharray="1.1 3.2" opacity="0.85"/>
<path d="M397.87,361.91 C398.83,362.40 401.48,363.84 403.65,364.81 C405.82,365.77 408.16,367.70 410.89,367.70 C413.61,367.70 418.48,365.29 420.00,364.81" fill="none" stroke="#d366aa" stroke-width="3.7" stroke-linecap="round" stroke-linejoin="round"/>
<path d="M397.87,361.91 C398.83,362.40 401.48,363.84 403.65,364.81 C405.82,365.77 408.16,367.70 410.89,367.70 C413.61,367.70 418.48,365.29 420.00,364.81" fill="none" stroke="#6a35a0" stroke-width="1.5" stroke-linecap="round" stroke-linejoin="round" stroke-dasharray="1.1 3.2" opacity="0.85"/>
<path d="M400.76,356.13 C401.24,354.92 402.45,350.58 403.65,348.89 C404.86,347.21 407.27,346.48 407.99,346.00" fill="none" stroke="#d366aa" stroke-width="3.7" stroke-linecap="round" stroke-linejoin="round"/>
<path d="M400.76,356.13 C401.24,354.92 402.45,350.58 403.65,348.89 C404.86,347.21 407.27,346.48 407.99,346.00" fill="none" stroke="#6a35a0" stroke-width="1.5" stroke-linecap="round" stroke-linejoin="round" stroke-dasharray="1.1 3.2" opacity="0.85"/>
<path d="M409.44,348.89 C409.92,350.10 410.57,354.68 412.33,356.13 C414.09,357.57 418.72,357.33 420.00,357.57" fill="none" stroke="#d366aa" stroke-width="3.7" stroke-linecap="round" stroke-linejoin="round"/>
<path d="M409.44,348.89 C409.92,350.10 410.57,354.68 412.33,356.13 C414.09,357.57 418.72,357.33 420.00,357.57" fill="none" stroke="#6a35a0" stroke-width="1.5" stroke-linecap="round" stroke-linejoin="round" stroke-dasharray="1.1 3.2" opacity="0.85"/>
<path d="M400.76,387.95 C400.52,389.16 398.83,393.02 399.31,395.19 C399.80,397.36 403.17,399.04 403.65,400.97 C404.14,402.90 403.89,405.31 402.21,406.76 C400.52,408.21 395.46,408.21 393.53,409.65 C391.60,411.10 391.12,414.47 390.63,415.44" fill="none" stroke="#d366aa" stroke-width="3.7" stroke-linecap="round" stroke-linejoin="round"/>
<path d="M400.76,387.95 C400.52,389.16 398.83,393.02 399.31,395.19 C399.80,397.36 403.17,399.04 403.65,400.97 C404.14,402.90 403.89,405.31 402.21,406.76 C400.52,408.21 395.46,408.21 393.53,409.65 C391.60,411.10 391.12,414.47 390.63,415.44" fill="none" stroke="#6a35a0" stroke-width="1.5" stroke-linecap="round" stroke-linejoin="round" stroke-dasharray="1.1 3.2" opacity="0.85"/>
<path d="M403.65,400.97 C405.10,401.46 409.61,403.63 412.33,403.87 C415.06,404.11 418.72,402.66 420.00,402.42" fill="none" stroke="#d366aa" stroke-width="3.7" stroke-linecap="round" stroke-linejoin="round"/>
<path d="M403.65,400.97 C405.10,401.46 409.61,403.63 412.33,403.87 C415.06,404.11 418.72,402.66 420.00,402.42" fill="none" stroke="#6a35a0" stroke-width="1.5" stroke-linecap="round" stroke-linejoin="round" stroke-dasharray="1.1 3.2" opacity="0.85"/>
<path d="M402.21,406.76 C403.17,407.24 406.31,408.45 407.99,409.65 C409.68,410.86 410.33,413.03 412.33,413.99 C414.33,414.96 418.72,415.20 420.00,415.44" fill="none" stroke="#d366aa" stroke-width="3.7" stroke-linecap="round" stroke-linejoin="round"/>
<path d="M402.21,406.76 C403.17,407.24 406.31,408.45 407.99,409.65 C409.68,410.86 410.33,413.03 412.33,413.99 C414.33,414.96 418.72,415.20 420.00,415.44" fill="none" stroke="#6a35a0" stroke-width="1.5" stroke-linecap="round" stroke-linejoin="round" stroke-dasharray="1.1 3.2" opacity="0.85"/>
<path d="M407.99,382.17 C408.72,383.37 410.33,387.71 412.33,389.40 C414.33,391.09 418.72,391.81 420.00,392.29" fill="none" stroke="#d366aa" stroke-width="3.7" stroke-linecap="round" stroke-linejoin="round"/>
<path d="M407.99,382.17 C408.72,383.37 410.33,387.71 412.33,389.40 C414.33,391.09 418.72,391.81 420.00,392.29" fill="none" stroke="#6a35a0" stroke-width="1.5" stroke-linecap="round" stroke-linejoin="round" stroke-dasharray="1.1 3.2" opacity="0.85"/>
<path d="M383.40,418.33 L386.29,426.00" fill="none" stroke="#d366aa" stroke-width="3.7" stroke-linecap="round" stroke-linejoin="round"/>
<path d="M383.40,418.33 L386.29,426.00" fill="none" stroke="#6a35a0" stroke-width="1.5" stroke-linecap="round" stroke-linejoin="round" stroke-dasharray="1.1 3.2" opacity="0.85"/>
<path d="M345.79,418.33 L344.34,426.00" fill="none" stroke="#d366aa" stroke-width="3.7" stroke-linecap="round" stroke-linejoin="round"/>
<path d="M345.79,418.33 L344.34,426.00" fill="none" stroke="#6a35a0" stroke-width="1.5" stroke-linecap="round" stroke-linejoin="round" stroke-dasharray="1.1 3.2" opacity="0.85"/>
<path d="M361.70,346.00 L360.25,350.34" fill="none" stroke="#d366aa" stroke-width="3.7" stroke-linecap="round" stroke-linejoin="round"/>
<path d="M361.70,346.00 L360.25,350.34" fill="none" stroke="#6a35a0" stroke-width="1.5" stroke-linecap="round" stroke-linejoin="round" stroke-dasharray="1.1 3.2" opacity="0.85"/>
<path d="M373.27,363.36 C374.00,364.08 375.93,366.98 377.61,367.70 C379.30,368.42 382.44,367.70 383.40,367.70" fill="none" stroke="#d366aa" stroke-width="3.7" stroke-linecap="round" stroke-linejoin="round"/>
<path d="M373.27,363.36 C374.00,364.08 375.93,366.98 377.61,367.70 C379.30,368.42 382.44,367.70 383.40,367.70" fill="none" stroke="#6a35a0" stroke-width="1.5" stroke-linecap="round" stroke-linejoin="round" stroke-dasharray="1.1 3.2" opacity="0.85"/>
<path d="M367.49,379.27 L374.72,377.10 L381.95,372.76 L388.46,367.41 L389.19,374.21 L393.53,380.72 L388.46,382.89 L382.68,385.78 L379.06,389.40 L376.17,394.46 L374.00,388.68 L371.10,383.90Z" fill="#e3efe9" stroke="#cc66b0" stroke-width="3.4" stroke-linejoin="round"/>
<path d="M367.49,379.27 L374.72,377.10 L381.95,372.76 L388.46,367.41 L389.19,374.21 L393.53,380.72 L388.46,382.89 L382.68,385.78 L379.06,389.40 L376.17,394.46 L374.00,388.68 L371.10,383.90Z" fill="#e3efe9" stroke="#3d2c92" stroke-width="1.4" stroke-linejoin="round"/>
</g>
<rect x="385.8" y="415.0" width="22.70" height="3.30" fill="#fff"/>
</g></g>
<clipPath id="cl_g2"><rect x="420.4" y="346.0" width="80.40" height="80.30"/></clipPath>
<g clip-path="url(#cl_g2)"><g filter="url(#hblur)">
<rect x="420.4" y="346.0" width="80.40" height="80.30" fill="#e3efe9"/>
<filter id="rg_g2_51" filterUnits="userSpaceOnUse" x="414.4" y="340.0" width="92.40" height="92.30" color-interpolation-filters="sRGB"><feTurbulence type="fractalNoise" baseFrequency="0.2" numOctaves="3" seed="51" result="t"/><feDisplacementMap in="SourceGraphic" in2="t" scale="5.0" xChannelSelector="R" yChannelSelector="G"/></filter>
<filter id="rg_g2_52" filterUnits="userSpaceOnUse" x="414.4" y="340.0" width="92.40" height="92.30" color-interpolation-filters="sRGB"><feTurbulence type="fractalNoise" baseFrequency="0.33" numOctaves="3" seed="52" result="t"/><feDisplacementMap in="SourceGraphic" in2="t" scale="5.0" xChannelSelector="R" yChannelSelector="G"/></filter>
<g filter="url(#rg_g2_51)">
<path d="M421.00,351.79 C422.45,352.03 426.55,353.47 429.68,353.23 C432.81,352.99 436.43,350.58 439.81,350.34 C443.18,350.10 446.56,352.03 449.93,351.79 C453.31,351.55 457.17,348.65 460.06,348.89 C462.95,349.13 464.64,352.99 467.29,353.23 C469.95,353.47 474.53,350.82 475.97,350.34" fill="none" stroke="#d76aae" stroke-width="3.0" stroke-linecap="round" stroke-linejoin="round"/>
<path d="M421.00,351.79 C422.45,352.03 426.55,353.47 429.68,353.23 C432.81,352.99 436.43,350.58 439.81,350.34 C443.18,350.10 446.56,352.03 449.93,351.79 C453.31,351.55 457.17,348.65 460.06,348.89 C462.95,349.13 464.64,352.99 467.29,353.23 C469.95,353.47 474.53,350.82 475.97,350.34" fill="none" stroke="#63329c" stroke-width="1.6" stroke-linecap="round" stroke-linejoin="round" stroke-dasharray="1.2 2.8" opacity="0.9"/>
<path d="M475.97,348.89 C476.94,350.34 479.83,355.16 481.76,357.57 C483.69,359.98 485.14,363.12 487.55,363.36 C489.96,363.60 493.98,359.50 496.23,359.02 C498.47,358.54 500.20,360.23 501.00,360.47" fill="none" stroke="#d76aae" stroke-width="3.0" stroke-linecap="round" stroke-linejoin="round"/>
<path d="M475.97,348.89 C476.94,350.34 479.83,355.16 481.76,357.57 C483.69,359.98 485.14,363.12 487.55,363.36 C489.96,363.60 493.98,359.50 496.23,359.02 C498.47,358.54 500.20,360.23 501.00,360.47" fill="none" stroke="#63329c" stroke-width="1.6" stroke-linecap="round" stroke-linejoin="round" stroke-dasharray="1.2 2.8" opacity="0.9"/>
<path d="M462.95,357.57 C463.92,358.06 467.05,358.78 468.74,360.47 C470.43,362.15 471.87,365.77 473.08,367.70 C474.29,369.63 475.49,371.32 475.97,372.04" fill="none" stroke="#d76aae" stroke-width="3.0" stroke-linecap="round" stroke-linejoin="round"/>
<path d="M462.95,357.57 C463.92,358.06 467.05,358.78 468.74,360.47 C470.43,362.15 471.87,365.77 473.08,367.70 C474.29,369.63 475.49,371.32 475.97,372.04" fill="none" stroke="#63329c" stroke-width="1.6" stroke-linecap="round" stroke-linejoin="round" stroke-dasharray="1.2 2.8" opacity="0.9"/>
<path d="M487.55,386.51 C488.51,386.99 491.40,389.16 493.33,389.40 C495.26,389.64 498.15,388.19 499.12,387.95" fill="none" stroke="#d76aae" stroke-width="3.0" stroke-linecap="round" stroke-linejoin="round"/>
<path d="M487.55,386.51 C488.51,386.99 491.40,389.16 493.33,389.40 C495.26,389.64 498.15,388.19 499.12,387.95" fill="none" stroke="#63329c" stroke-width="1.6" stroke-linecap="round" stroke-linejoin="round" stroke-dasharray="1.2 2.8" opacity="0.9"/>
<path d="M488.99,393.74 C490.20,394.46 494.22,397.84 496.23,398.08 C498.23,398.32 500.20,395.67 501.00,395.19" fill="none" stroke="#d76aae" stroke-width="3.0" stroke-linecap="round" stroke-linejoin="round"/>
<path d="M488.99,393.74 C490.20,394.46 494.22,397.84 496.23,398.08 C498.23,398.32 500.20,395.67 501.00,395.19" fill="none" stroke="#63329c" stroke-width="1.6" stroke-linecap="round" stroke-linejoin="round" stroke-dasharray="1.2 2.8" opacity="0.9"/>
<path d="M481.76,400.97 C482.97,401.46 487.06,403.63 488.99,403.87 C490.92,404.11 492.61,402.66 493.33,402.42" fill="none" stroke="#d76aae" stroke-width="3.0" stroke-linecap="round" stroke-linejoin="round"/>
<path d="M481.76,400.97 C482.97,401.46 487.06,403.63 488.99,403.87 C490.92,404.11 492.61,402.66 493.33,402.42" fill="none" stroke="#63329c" stroke-width="1.6" stroke-linecap="round" stroke-linejoin="round" stroke-dasharray="1.2 2.8" opacity="0.9"/>
<path d="M454.27,353.23 L457.17,360.47" fill="none" stroke="#d76aae" stroke-width="3.0" stroke-linecap="round" stroke-linejoin="round"/>
<path d="M454.27,353.23 L457.17,360.47" fill="none" stroke="#63329c" stroke-width="1.6" stroke-linecap="round" stroke-linejoin="round" stroke-dasharray="1.2 2.8" opacity="0.9"/>
<path d="M421.00,389.40 C421.72,390.12 424.86,391.81 425.34,393.74 C425.82,395.67 424.13,399.77 423.89,400.97" fill="none" stroke="#d76aae" stroke-width="3.0" stroke-linecap="round" stroke-linejoin="round"/>
<path d="M421.00,389.40 C421.72,390.12 424.86,391.81 425.34,393.74 C425.82,395.67 424.13,399.77 423.89,400.97" fill="none" stroke="#63329c" stroke-width="1.6" stroke-linecap="round" stroke-linejoin="round" stroke-dasharray="1.2 2.8" opacity="0.9"/>
<path d="M421.00,374.21 C422.69,374.33 427.51,374.21 431.13,374.93 C434.74,375.66 439.08,376.86 442.70,378.55 C446.32,380.24 450.05,382.53 452.83,385.06 C455.60,387.59 457.89,390.61 459.34,393.74 C460.78,396.87 461.58,400.49 461.51,403.87 C461.43,407.24 460.30,410.30 458.90,413.99 C457.50,417.68 454.08,424.00 453.12,426.00" fill="none" stroke="#d57fba" stroke-width="2.0" stroke-linecap="round" stroke-linejoin="round"/>
<path d="M460.06,413.99 C461.27,413.27 465.32,409.85 467.29,409.65 C469.27,409.46 471.68,410.91 471.92,412.84 C472.16,414.76 469.99,419.03 468.74,421.23 C467.49,423.42 465.12,425.20 464.40,426.00" fill="none" stroke="#d68abf" stroke-width="3.0" stroke-linecap="round" stroke-linejoin="round"/>
<path d="M433.30,359.02 C433.78,357.09 435.10,355.04 436.91,354.68 C438.72,354.32 441.98,355.89 444.15,356.85 C446.32,357.81 449.33,359.14 449.93,360.47 C450.54,361.79 448.37,362.88 447.76,364.81 C447.16,366.74 447.40,370.35 446.32,372.04 C445.23,373.73 442.94,374.93 441.25,374.93 C439.57,374.93 437.40,373.49 436.19,372.04 C434.98,370.59 434.50,368.42 434.02,366.25 C433.54,364.08 432.81,360.95 433.30,359.02Z" fill="#a55cb0"/>
<path d="M435.47,360.47 C435.95,358.54 441.01,358.06 442.70,359.02 C444.39,359.98 446.08,364.32 445.59,366.25 C445.11,368.18 441.49,371.56 439.81,370.59 C438.12,369.63 434.98,362.40 435.47,360.47Z" fill="none" stroke="#5f2e92" stroke-width="2.2" stroke-linecap="round" stroke-linejoin="round" stroke-dasharray="1.4 2.2"/>
<path d="M464.40,409.65 C465.12,408.21 468.74,406.64 471.63,406.76 C474.53,406.88 479.83,408.93 481.76,410.38 C483.69,411.82 484.17,414.11 483.21,415.44 C482.24,416.77 478.63,418.33 475.97,418.33 C473.32,418.33 469.22,416.89 467.29,415.44 C465.36,413.99 463.68,411.10 464.40,409.65Z" fill="#a55cb0"/>
<path d="M467.29,411.10 C468.74,410.50 476.94,410.26 478.87,411.10 C480.80,411.94 480.31,415.56 478.87,416.16 C477.42,416.77 472.12,415.56 470.19,414.72 C468.26,413.87 465.85,411.70 467.29,411.10Z" fill="none" stroke="#5f2e92" stroke-width="2.0" stroke-linecap="round" stroke-linejoin="round" stroke-dasharray="1.4 2.2"/>
</g>
<g filter="url(#rg_g2_52)">
<path d="M419.55,380.72 C421.24,380.60 426.55,379.76 429.68,380.00 C432.81,380.24 435.47,380.96 438.36,382.17 C441.25,383.37 444.63,385.30 447.04,387.23 C449.45,389.16 451.50,391.21 452.83,393.74 C454.15,396.27 455.12,399.53 455.00,402.42 C454.88,405.31 453.62,408.21 452.10,411.10 C450.58,413.99 447.69,417.13 445.88,419.78 C444.07,422.43 442.02,425.81 441.25,427.01" fill="none" stroke="#c23088" stroke-width="9.0" stroke-linecap="round" stroke-linejoin="round"/>
<path d="M419.55,380.72 C421.24,380.60 426.55,379.76 429.68,380.00 C432.81,380.24 435.47,380.96 438.36,382.17 C441.25,383.37 444.63,385.30 447.04,387.23 C449.45,389.16 451.50,391.21 452.83,393.74 C454.15,396.27 455.12,399.53 455.00,402.42 C454.88,405.31 453.62,408.21 452.10,411.10 C450.58,413.99 447.69,417.13 445.88,419.78 C444.07,422.43 442.02,425.81 441.25,427.01" fill="none" stroke="#7a2c98" stroke-width="4.4" stroke-linecap="round" stroke-linejoin="round" stroke-dasharray="1.6 2.3" transform="translate(1.3,-1.3)"/>
</g>
<filter id="rg_g2_53" filterUnits="userSpaceOnUse" x="414.4" y="340.0" width="92.40" height="92.30" color-interpolation-filters="sRGB"><feTurbulence type="fractalNoise" baseFrequency="0.25" numOctaves="3" seed="53" result="t"/><feDisplacementMap in="SourceGraphic" in2="t" scale="3.0" xChannelSelector="R" yChannelSelector="G"/></filter>
<g filter="url(#rg_g2_53)">
<path d="M448.49,363.36 C449.09,362.27 450.66,362.15 452.10,362.64 C453.55,363.12 455.36,364.44 457.17,366.25 C458.97,368.06 461.02,371.08 462.95,373.49 C464.88,375.90 466.81,378.31 468.74,380.72 C470.67,383.13 472.84,385.54 474.53,387.95 C476.21,390.36 477.90,392.78 478.87,395.19 C479.83,397.60 480.55,400.49 480.31,402.42 C480.07,404.35 478.50,406.52 477.42,406.76 C476.33,407.00 475.01,405.55 473.80,403.87 C472.60,402.18 471.75,398.80 470.19,396.63 C468.62,394.46 466.21,392.05 464.40,390.85 C462.59,389.64 460.90,390.61 459.34,389.40 C457.77,388.19 456.44,385.78 455.00,383.61 C453.55,381.44 451.74,378.79 450.66,376.38 C449.57,373.97 448.85,371.32 448.49,369.15 C448.12,366.98 447.88,364.44 448.49,363.36Z" fill="none" stroke="#c48cc6" stroke-width="5.6" stroke-linecap="round" stroke-linejoin="round"/>
<path d="M448.49,363.36 C449.09,362.27 450.66,362.15 452.10,362.64 C453.55,363.12 455.36,364.44 457.17,366.25 C458.97,368.06 461.02,371.08 462.95,373.49 C464.88,375.90 466.81,378.31 468.74,380.72 C470.67,383.13 472.84,385.54 474.53,387.95 C476.21,390.36 477.90,392.78 478.87,395.19 C479.83,397.60 480.55,400.49 480.31,402.42 C480.07,404.35 478.50,406.52 477.42,406.76 C476.33,407.00 475.01,405.55 473.80,403.87 C472.60,402.18 471.75,398.80 470.19,396.63 C468.62,394.46 466.21,392.05 464.40,390.85 C462.59,389.64 460.90,390.61 459.34,389.40 C457.77,388.19 456.44,385.78 455.00,383.61 C453.55,381.44 451.74,378.79 450.66,376.38 C449.57,373.97 448.85,371.32 448.49,369.15 C448.12,366.98 447.88,364.44 448.49,363.36Z" fill="#e9eeec" stroke="#35246e" stroke-width="2.1" stroke-linecap="round" stroke-linejoin="round"/>
</g>
<rect x="470.7" y="417.6" width="23.30" height="2.90" fill="#fff"/>
</g></g>
<clipPath id="cl_g3"><rect x="339.4" y="426.3" width="81.00" height="79.90"/></clipPath>
<g clip-path="url(#cl_g3)"><g filter="url(#hblur)">
<rect x="339.4" y="426.3" width="81.00" height="79.90" fill="#d05ea2"/>
<filter id="tx_g3_61" filterUnits="userSpaceOnUse" x="339.4" y="426.3" width="81.00" height="79.90" color-interpolation-filters="sRGB"><feTurbulence type="fractalNoise" baseFrequency="0.3" numOctaves="2" seed="61" result="n1"/><feColorMatrix in="n1" type="matrix" values="0 0 0 0 0.478  0 0 0 0 0.200  0 0 0 0 0.580  7.0 0 0 0 -3.5" result="pur"/><feTurbulence type="fractalNoise" baseFrequency="0.24" numOctaves="2" seed="72" result="n2"/><feColorMatrix in="n2" type="matrix" values="0 0 0 0 0.953  0 0 0 0 0.737  0 0 0 0 0.847  0 6.0 0 0 -3.5" result="lit"/><feTurbulence type="fractalNoise" baseFrequency="0.085" numOctaves="3" seed="84" result="n3"/><feColorMatrix in="n3" type="matrix" values="0 0 0 0 0.890  0 0 0 0 0.937  0 0 0 0 0.914  0 0 16.0 0 -10.7" result="hol"/><feMerge><feMergeNode in="lit"/><feMergeNode in="pur"/><feMergeNode in="hol"/></feMerge><feComposite in2="SourceGraphic" operator="in"/></filter>
<rect x="339.4" y="426.3" width="81.00" height="79.90" fill="#fff" filter="url(#tx_g3_61)" opacity="1.0"/>
<filter id="rg_g3_63" filterUnits="userSpaceOnUse" x="333.4" y="420.3" width="93.00" height="91.90" color-interpolation-filters="sRGB"><feTurbulence type="fractalNoise" baseFrequency="0.1" numOctaves="3" seed="63" result="t"/><feDisplacementMap in="SourceGraphic" in2="t" scale="9.0" xChannelSelector="R" yChannelSelector="G"/></filter>
<g fill="#e3efe9" filter="url(#rg_g3_63)">
<ellipse cx="347.23" cy="433.96" rx="9.87" ry="9.87"/>
<ellipse cx="351.28" cy="473.74" rx="13.69" ry="17.82"/>
<ellipse cx="348.68" cy="499.06" rx="9.87" ry="8.27"/>
<ellipse cx="366.76" cy="447.70" rx="8.91" ry="13.69"/>
<ellipse cx="383.40" cy="430.63" rx="7.32" ry="4.77"/>
<ellipse cx="392.80" cy="444.81" rx="3.98" ry="3.98"/>
<ellipse cx="410.16" cy="441.19" rx="11.46" ry="17.82"/>
<ellipse cx="396.42" cy="474.03" rx="11.46" ry="11.46"/>
<ellipse cx="411.18" cy="469.40" rx="3.98" ry="3.18"/>
<ellipse cx="409.73" cy="479.82" rx="4.77" ry="3.98"/>
<ellipse cx="416.96" cy="475.19" rx="3.18" ry="3.98"/>
<ellipse cx="386.29" cy="492.55" rx="4.77" ry="3.18"/>
<ellipse cx="413.06" cy="495.73" rx="7.96" ry="6.37"/>
<ellipse cx="403.65" cy="491.10" rx="3.50" ry="2.55"/>
<ellipse cx="376.17" cy="434.68" rx="3.18" ry="3.18"/>
<ellipse cx="342.89" cy="460.72" rx="6.37" ry="6.37"/>
<ellipse cx="361.70" cy="486.76" rx="6.37" ry="9.55"/>
</g>
<filter id="rg_g3_64" filterUnits="userSpaceOnUse" x="333.4" y="420.3" width="93.00" height="91.90" color-interpolation-filters="sRGB"><feTurbulence type="fractalNoise" baseFrequency="0.2" numOctaves="3" seed="64" result="t"/><feDisplacementMap in="SourceGraphic" in2="t" scale="3.5" xChannelSelector="R" yChannelSelector="G"/></filter>
<path d="M383.40,454.21 C384.73,453.97 386.53,455.29 387.02,457.10 C387.50,458.91 386.90,462.53 386.29,465.06 C385.69,467.59 384.61,470.36 383.40,472.29 C382.19,474.22 380.39,476.03 379.06,476.63 C377.73,477.24 376.53,477.12 375.44,475.91 C374.36,474.70 372.67,471.45 372.55,469.40 C372.43,467.35 373.63,465.42 374.72,463.61 C375.80,461.80 377.61,460.12 379.06,458.55 C380.51,456.98 382.07,454.45 383.40,454.21Z" fill="#ea86b4" stroke="#4a2f92" stroke-width="1.2" stroke-linecap="round" stroke-linejoin="round" filter="url(#rg_g3_64)"/>
<rect x="384.0" y="497.7" width="23.00" height="2.60" fill="#fff"/>
</g></g>
<clipPath id="cl_g4"><rect x="420.4" y="426.3" width="80.40" height="79.90"/></clipPath>
<g clip-path="url(#cl_g4)"><g filter="url(#hblur)">
<rect x="420.4" y="426.3" width="80.40" height="79.90" fill="#d3528f"/>
<radialGradient id="rg_g4" cx="0.33" cy="0.55" r="0.42"><stop offset="0" stop-color="#ec6a96" stop-opacity="0.95"/><stop offset="1" stop-color="#ea5a8e" stop-opacity="0"/></radialGradient>
<rect x="420.4" y="426.3" width="80.40" height="79.90" fill="url(#rg_g4)"/>
<filter id="rg_g4_73" filterUnits="userSpaceOnUse" x="414.4" y="420.3" width="92.40" height="91.90" color-interpolation-filters="sRGB"><feTurbulence type="fractalNoise" baseFrequency="0.1" numOctaves="3" seed="73" result="t"/><feDisplacementMap in="SourceGraphic" in2="t" scale="9.0" xChannelSelector="R" yChannelSelector="G"/></filter>
<g filter="url(#rg_g4_73)" opacity="0.72">
<path d="M421.00,431.79 C423.41,432.03 430.64,432.03 435.47,433.23 C440.29,434.44 446.03,437.04 449.93,439.02 C453.84,441.00 457.41,444.08 458.90,445.10" fill="none" stroke="#8a2f9a" stroke-width="5.5" stroke-linecap="round" stroke-linejoin="round"/>
<path d="M431.13,496.89 C432.33,495.49 434.74,490.62 438.36,488.50 C441.98,486.37 447.76,484.78 452.83,484.16 C457.89,483.53 465.07,485.70 468.74,484.73 C472.40,483.77 472.36,479.91 474.82,478.37 C477.27,476.83 480.41,475.23 483.50,475.48 C486.58,475.72 490.42,478.37 493.33,479.82 C496.25,481.26 499.72,483.43 501.00,484.16" fill="none" stroke="#8a2f9a" stroke-width="5.5" stroke-linecap="round" stroke-linejoin="round"/>
<path d="M483.21,431.79 C484.17,433.72 486.58,440.71 488.99,443.36 C491.40,446.01 496.23,446.98 497.67,447.70" fill="none" stroke="#8a2f9a" stroke-width="5.0" stroke-linecap="round" stroke-linejoin="round"/>
<path d="M421.00,473.74 C421.96,474.95 426.06,477.60 426.79,480.97 C427.51,484.35 425.58,491.82 425.34,493.99" fill="none" stroke="#8a2f9a" stroke-width="4.0" stroke-linecap="round" stroke-linejoin="round"/>
</g>
<filter id="tx_g4_71" filterUnits="userSpaceOnUse" x="420.4" y="426.3" width="80.40" height="79.90" color-interpolation-filters="sRGB"><feTurbulence type="fractalNoise" baseFrequency="0.3" numOctaves="2" seed="71" result="n1"/><feColorMatrix in="n1" type="matrix" values="0 0 0 0 0.478  0 0 0 0 0.200  0 0 0 0 0.580  6.5 0 0 0 -3.7" result="pur"/><feTurbulence type="fractalNoise" baseFrequency="0.24" numOctaves="2" seed="82" result="n2"/><feColorMatrix in="n2" type="matrix" values="0 0 0 0 0.957  0 0 0 0 0.714  0 0 0 0 0.812  0 6.0 0 0 -3.7" result="lit"/><feTurbulence type="fractalNoise" baseFrequency="0.085" numOctaves="3" seed="94" result="n3"/><feColorMatrix in="n3" type="matrix" values="0 0 0 0 0.890  0 0 0 0 0.937  0 0 0 0 0.914  0 0 16.0 0 -30" result="hol"/><feMerge><feMergeNode in="lit"/><feMergeNode in="pur"/><feMergeNode in="hol"/></feMerge><feComposite in2="SourceGraphic" operator="in"/></filter>
<rect x="420.4" y="426.3" width="80.40" height="79.90" fill="#fff" filter="url(#tx_g4_71)" opacity="0.75"/>
<g filter="url(#rg_g4_73)">
<path d="M461.51,434.68 C462.47,435.89 464.88,439.74 467.29,441.91 C469.70,444.08 473.08,445.77 475.97,447.70 C478.87,449.63 481.76,452.96 484.65,453.49 C487.55,454.02 491.89,451.32 493.33,450.88" fill="none" stroke="#f1d3e2" stroke-width="1.1" stroke-linecap="round" stroke-linejoin="round"/>
</g>
<filter id="rg_g4_74" filterUnits="userSpaceOnUse" x="414.4" y="420.3" width="92.40" height="91.90" color-interpolation-filters="sRGB"><feTurbulence type="fractalNoise" baseFrequency="0.22" numOctaves="3" seed="74" result="t"/><feDisplacementMap in="SourceGraphic" in2="t" scale="3.5" xChannelSelector="R" yChannelSelector="G"/></filter>
<g filter="url(#rg_g4_74)">
<path d="M460.06,456.38 C461.14,455.54 465.24,454.81 467.29,454.93 C469.34,455.05 471.27,455.66 472.36,457.10 C473.44,458.55 473.68,461.32 473.80,463.61 C473.92,465.90 474.16,469.04 473.08,470.85 C471.99,472.65 469.46,473.50 467.29,474.46 C465.12,475.43 462.47,476.51 460.06,476.63 C457.65,476.75 455.12,475.91 452.83,475.19 C450.54,474.46 447.04,473.38 446.32,472.29 C445.59,471.21 447.04,469.64 448.49,468.68 C449.93,467.71 453.31,467.35 455.00,466.51 C456.68,465.66 457.65,464.70 458.61,463.61 C459.58,462.53 460.54,461.20 460.78,460.00 C461.02,458.79 458.97,457.22 460.06,456.38Z" fill="#2e1c66" stroke="#2e1c66" stroke-width="0.8" stroke-linecap="round" stroke-linejoin="round"/>
<path d="M462.95,458.12 C464.50,456.86 468.98,456.19 470.48,457.83 C471.97,459.47 472.81,465.40 471.92,467.95 C471.03,470.51 467.46,472.39 465.12,473.16 C462.78,473.93 458.54,473.88 457.89,472.58 C457.24,471.28 460.37,467.76 461.22,465.35 C462.06,462.94 461.41,459.37 462.95,458.12Z" fill="#efd6e2"/>
<g fill="#e58fb4">
<ellipse cx="464.40" cy="462.17" rx="1.16" ry="1.16"/>
<ellipse cx="468.02" cy="467.23" rx="1.30" ry="1.01"/>
<ellipse cx="462.23" cy="469.40" rx="1.01" ry="0.87"/>
</g>
</g>
<rect x="471.0" y="496.9" width="23.00" height="2.40" fill="#fff"/>
</g></g>
<rect x="519.4" y="61.3" width="160.40" height="159.30" fill="none" stroke="#1a1212" stroke-width="1.5"/>
<line x1="598.50" y1="61.30" x2="598.50" y2="220.60" stroke="#1a1212" stroke-width="1.5" stroke-linecap="butt"/>
<line x1="519.40" y1="139.60" x2="679.80" y2="139.60" stroke="#1a1212" stroke-width="1.5" stroke-linecap="butt"/>
<rect x="339.4" y="346.0" width="161.40" height="160.20" fill="none" stroke="#1a1212" stroke-width="1.5"/>
<line x1="420.40" y1="346.00" x2="420.40" y2="506.20" stroke="#1a1212" stroke-width="1.5" stroke-linecap="butt"/>
<line x1="339.40" y1="426.30" x2="500.80" y2="426.30" stroke="#1a1212" stroke-width="1.5" stroke-linecap="butt"/>
<text x="536.00" y="54.10" font-family='"Liberation Sans", sans-serif' font-size="11.5" font-weight="bold" text-anchor="start" fill="#1a1212">MCTp(-)</text>
<text x="616.20" y="54.10" font-family='"Liberation Sans", sans-serif' font-size="11.5" font-weight="bold" text-anchor="start" fill="#1a1212">MCTp(+)</text>
<text x="0.00" y="0.00" font-family='"Liberation Sans", sans-serif' font-size="11.5" font-weight="bold" text-anchor="start" fill="#1a1212" transform="translate(511.00,123.00) rotate(-90)">Tie2-Cre</text>
<text x="0.00" y="0.00" font-family='"Liberation Sans", sans-serif' font-size="11.5" font-weight="bold" text-anchor="start" fill="#1a1212" transform="translate(511.00,213.00) rotate(-90)">GC-B ecKO</text>
<text x="517.00" y="14.20" font-family='"Liberation Sans", sans-serif' font-size="18" font-weight="bold" text-anchor="start" fill="#1a1212">d</text>
<text x="359.20" y="340.70" font-family='"Liberation Sans", sans-serif' font-size="11.5" font-weight="bold" text-anchor="start" fill="#1a1212">MCTp(-)</text>
<text x="435.80" y="340.60" font-family='"Liberation Sans", sans-serif' font-size="11.5" font-weight="bold" text-anchor="start" fill="#1a1212">MCTp(+)</text>
<text x="0.00" y="0.00" font-family='"Liberation Sans", sans-serif' font-size="11.5" font-weight="bold" text-anchor="start" fill="#1a1212" transform="translate(332.70,409.20) rotate(-90)">SM22α-Cre</text>
<text x="0.00" y="0.00" font-family='"Liberation Sans", sans-serif' font-size="11.5" font-weight="bold" text-anchor="start" fill="#1a1212" transform="translate(332.70,505.00) rotate(-90)">GC-B smcKO</text>
<text x="320.50" y="321.30" font-family='"Liberation Sans", sans-serif' font-size="18" font-weight="bold" text-anchor="start" fill="#1a1212">g</text>
</svg></body></html>
